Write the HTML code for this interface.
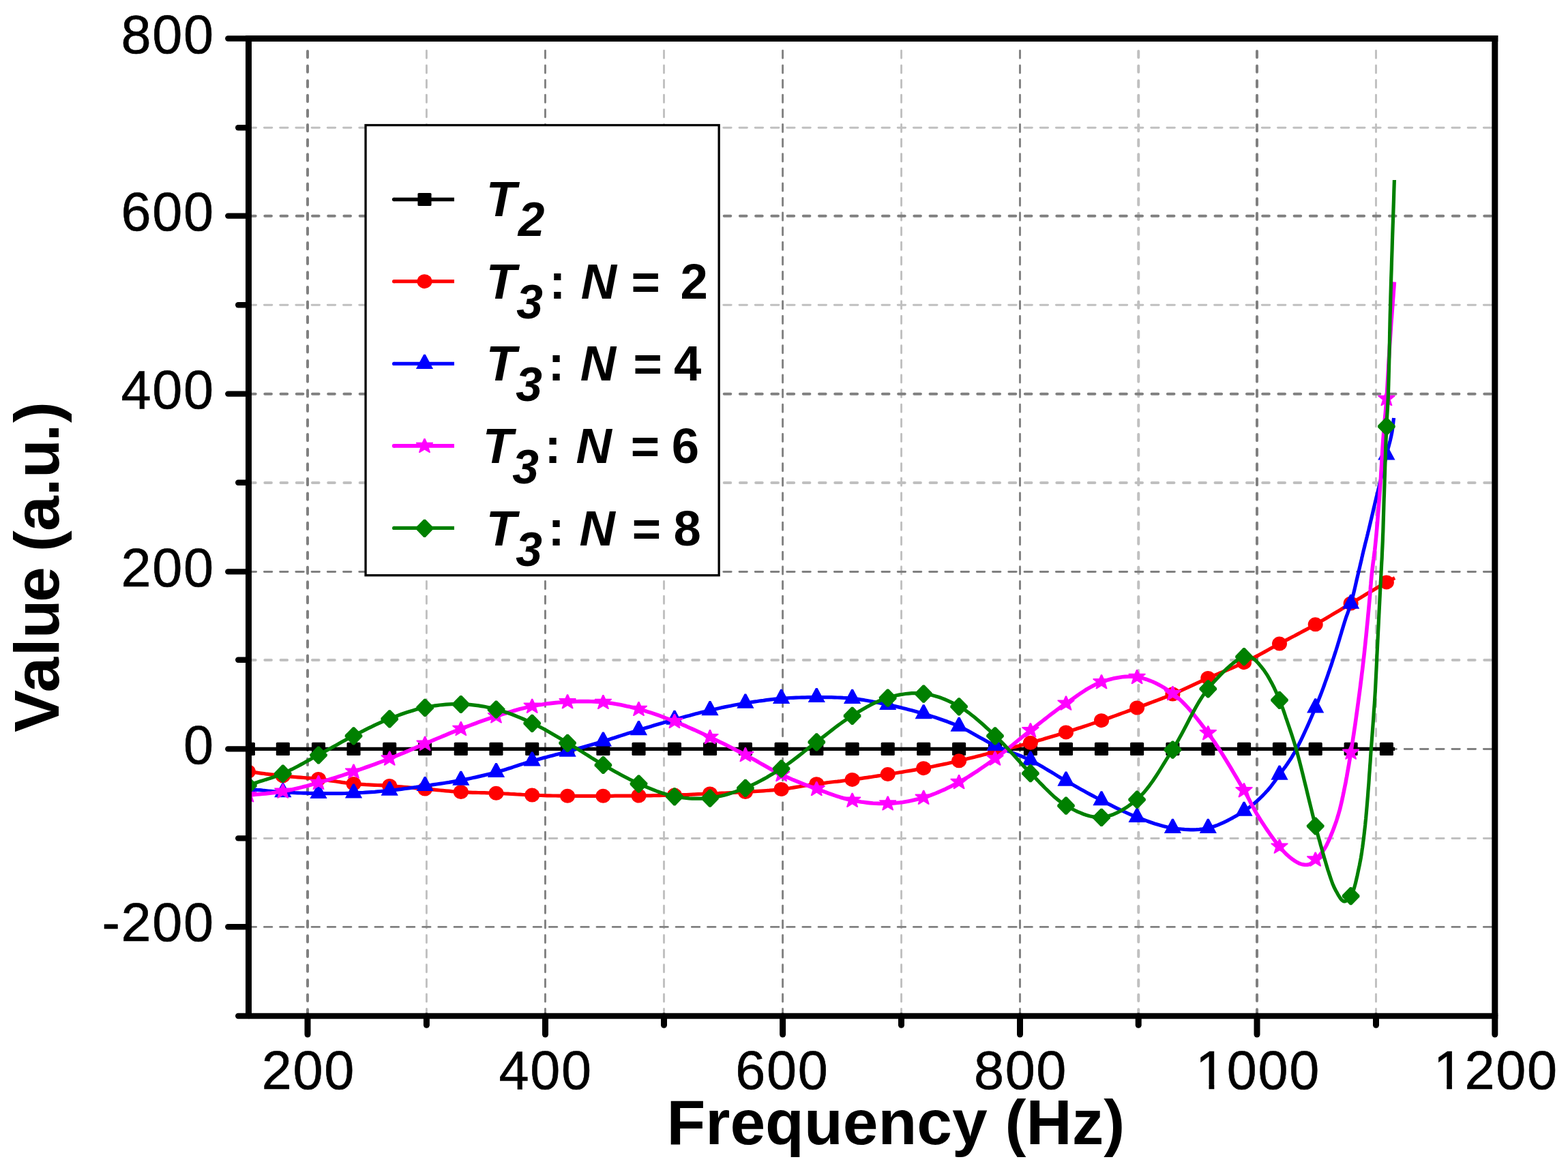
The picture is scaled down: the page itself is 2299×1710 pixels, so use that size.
<!DOCTYPE html>
<html lang="en"><head><meta charset="utf-8"><title>Value vs Frequency</title>
<style>
html,body{margin:0;padding:0;background:#fff;}
svg{display:block;}
text{font-family:"Liberation Sans",sans-serif;fill:#000;}
.tick{font-size:79.2px;letter-spacing:1.7px;stroke:#000;stroke-width:0.6px;}
.title{font-size:93px;font-weight:bold;}
.leg{font-size:72.5px;font-weight:bold;}
.sub{font-size:69.5px;}
.it{font-style:italic;}
</style></head><body>
<svg width="2299" height="1710" viewBox="0 0 2299 1710">
<rect width="2299" height="1710" fill="#fff"/>
<defs>
<clipPath id="plot"><rect x="364.5" y="56.5" width="1827.3000000000002" height="1433.5"/></clipPath>
<clipPath id="grid"><rect x="364.5" y="66" width="1827.3000000000002" height="1424.0"/></clipPath>
</defs>
<g clip-path="url(#grid)" fill="none" stroke-linecap="round">
<path d="M451.00,1489.50 V40" stroke="#808080" stroke-width="4.0" stroke-dasharray="9.2 12.42"/>
<path d="M625.40,1490.65 V40" stroke="#c0c0c0" stroke-width="2.9" stroke-dasharray="11.1 10.52"/>
<path d="M799.45,1490.65 V40" stroke="#808080" stroke-width="2.9" stroke-dasharray="11.1 10.52"/>
<path d="M973.50,1490.65 V40" stroke="#c0c0c0" stroke-width="2.9" stroke-dasharray="11.1 10.52"/>
<path d="M1147.60,1490.65 V40" stroke="#808080" stroke-width="2.9" stroke-dasharray="11.1 10.52"/>
<path d="M1321.55,1490.65 V40" stroke="#c0c0c0" stroke-width="2.9" stroke-dasharray="11.1 10.52"/>
<path d="M1495.50,1490.65 V40" stroke="#808080" stroke-width="2.9" stroke-dasharray="11.1 10.52"/>
<path d="M1669.25,1489.50 V40" stroke="#c0c0c0" stroke-width="4.0" stroke-dasharray="9.2 12.42"/>
<path d="M1843.00,1489.50 V40" stroke="#808080" stroke-width="4.0" stroke-dasharray="9.2 12.42"/>
<path d="M2017.50,1490.65 V40" stroke="#c0c0c0" stroke-width="2.9" stroke-dasharray="11.1 10.52"/>
<path d="M364.20,1359.40 H2200" stroke="#808080" stroke-width="2.9" stroke-dasharray="11.4 11.82"/>
<path d="M364.20,1229.50 H2200" stroke="#c0c0c0" stroke-width="2.9" stroke-dasharray="11.4 11.82"/>
<path d="M364.20,1098.45 H2200" stroke="#808080" stroke-width="2.9" stroke-dasharray="11.4 11.82"/>
<path d="M365.10,967.90 H2200" stroke="#c0c0c0" stroke-width="4.0" stroke-dasharray="9.6 13.62"/>
<path d="M364.20,838.50 H2200" stroke="#808080" stroke-width="2.9" stroke-dasharray="11.4 11.82"/>
<path d="M365.10,707.90 H2200" stroke="#c0c0c0" stroke-width="4.0" stroke-dasharray="9.6 13.62"/>
<path d="M365.10,577.70 H2200" stroke="#808080" stroke-width="4.0" stroke-dasharray="9.6 13.62"/>
<path d="M364.20,447.30 H2200" stroke="#c0c0c0" stroke-width="2.9" stroke-dasharray="11.4 11.82"/>
<path d="M365.10,316.70 H2200" stroke="#808080" stroke-width="4.0" stroke-dasharray="9.6 13.62"/>
<path d="M364.20,187.30 H2200" stroke="#c0c0c0" stroke-width="2.9" stroke-dasharray="11.4 11.82"/>
</g>
<g clip-path="url(#plot)">
<path d="M363.9,1098.4 L368.1,1098.4 L372.4,1098.4 L376.6,1098.4 L380.9,1098.4 L385.1,1098.4 L389.3,1098.4 L393.6,1098.4 L397.8,1098.4 L402.1,1098.4 L406.3,1098.4 L410.6,1098.4 L414.8,1098.4 L419.2,1098.4 L423.5,1098.4 L427.8,1098.4 L432.2,1098.4 L436.5,1098.4 L440.9,1098.4 L445.2,1098.4 L449.6,1098.4 L454.0,1098.4 L458.3,1098.4 L462.6,1098.4 L467.0,1098.4 L471.3,1098.4 L475.6,1098.4 L479.9,1098.4 L484.2,1098.4 L488.4,1098.4 L492.7,1098.4 L497.0,1098.4 L501.3,1098.4 L505.6,1098.4 L509.9,1098.4 L514.2,1098.4 L518.5,1098.4 L522.9,1098.4 L527.3,1098.4 L531.7,1098.4 L536.1,1098.4 L540.4,1098.4 L544.8,1098.4 L549.2,1098.4 L553.6,1098.4 L558.0,1098.4 L562.4,1098.4 L566.8,1098.4 L571.2,1098.4 L575.5,1098.4 L579.8,1098.4 L584.2,1098.4 L588.5,1098.4 L592.8,1098.4 L597.1,1098.4 L601.4,1098.4 L605.7,1098.4 L610.1,1098.4 L614.4,1098.4 L618.7,1098.4 L623.1,1098.4 L627.4,1098.4 L631.8,1098.4 L636.2,1098.4 L640.6,1098.4 L645.0,1098.4 L649.4,1098.4 L653.8,1098.4 L658.2,1098.4 L662.6,1098.4 L667.0,1098.4 L671.4,1098.4 L675.8,1098.4 L680.1,1098.4 L684.4,1098.4 L688.7,1098.4 L693.0,1098.4 L697.3,1098.4 L701.6,1098.4 L705.9,1098.4 L710.2,1098.4 L714.5,1098.4 L718.8,1098.4 L723.1,1098.4 L727.5,1098.4 L731.8,1098.4 L736.2,1098.4 L740.6,1098.4 L745.0,1098.4 L749.4,1098.4 L753.8,1098.4 L758.2,1098.4 L762.6,1098.4 L767.0,1098.4 L771.4,1098.4 L775.8,1098.4 L780.2,1098.4 L784.5,1098.4 L788.9,1098.4 L793.2,1098.4 L797.5,1098.4 L801.8,1098.4 L806.2,1098.4 L810.5,1098.4 L814.8,1098.4 L819.1,1098.4 L823.5,1098.4 L827.8,1098.4 L832.1,1098.4 L836.5,1098.4 L840.8,1098.4 L845.2,1098.4 L849.5,1098.4 L853.9,1098.4 L858.2,1098.4 L862.6,1098.4 L867.0,1098.4 L871.3,1098.4 L875.7,1098.4 L880.0,1098.4 L884.4,1098.4 L888.7,1098.4 L893.1,1098.4 L897.4,1098.4 L901.8,1098.4 L906.1,1098.4 L910.4,1098.4 L914.8,1098.4 L919.1,1098.4 L923.5,1098.4 L927.8,1098.4 L932.2,1098.4 L936.5,1098.4 L940.9,1098.4 L945.3,1098.4 L949.6,1098.4 L954.0,1098.4 L958.4,1098.4 L962.7,1098.4 L967.1,1098.4 L971.5,1098.4 L975.9,1098.4 L980.2,1098.4 L984.6,1098.4 L989.0,1098.4 L993.3,1098.4 L997.7,1098.4 L1002.0,1098.4 L1006.4,1098.4 L1010.7,1098.4 L1015.0,1098.4 L1019.4,1098.4 L1023.7,1098.4 L1028.0,1098.4 L1032.4,1098.4 L1036.7,1098.4 L1041.0,1098.4 L1045.4,1098.4 L1049.7,1098.4 L1054.0,1098.4 L1058.3,1098.4 L1062.6,1098.4 L1067.0,1098.4 L1071.3,1098.4 L1075.6,1098.4 L1079.9,1098.4 L1084.3,1098.4 L1088.6,1098.4 L1092.9,1098.4 L1097.3,1098.4 L1101.7,1098.4 L1106.1,1098.4 L1110.5,1098.4 L1114.9,1098.4 L1119.3,1098.4 L1123.7,1098.4 L1128.1,1098.4 L1132.5,1098.4 L1136.9,1098.4 L1141.3,1098.4 L1145.6,1098.4 L1150.0,1098.4 L1154.3,1098.4 L1158.6,1098.4 L1162.9,1098.4 L1167.2,1098.4 L1171.5,1098.4 L1175.8,1098.4 L1180.1,1098.4 L1184.4,1098.4 L1188.7,1098.4 L1193.0,1098.4 L1197.3,1098.4 L1201.7,1098.4 L1206.0,1098.4 L1210.4,1098.4 L1214.7,1098.4 L1219.1,1098.4 L1223.4,1098.4 L1227.8,1098.4 L1232.2,1098.4 L1236.5,1098.4 L1240.9,1098.4 L1245.2,1098.4 L1249.6,1098.4 L1253.9,1098.4 L1258.3,1098.4 L1262.6,1098.4 L1267.0,1098.4 L1271.3,1098.4 L1275.6,1098.4 L1280.0,1098.4 L1284.3,1098.4 L1288.7,1098.4 L1293.0,1098.4 L1297.4,1098.4 L1301.7,1098.4 L1306.1,1098.4 L1310.5,1098.4 L1314.8,1098.4 L1319.2,1098.4 L1323.6,1098.4 L1328.0,1098.4 L1332.4,1098.4 L1336.8,1098.4 L1341.1,1098.4 L1345.5,1098.4 L1349.9,1098.4 L1354.2,1098.4 L1358.6,1098.4 L1362.9,1098.4 L1367.2,1098.4 L1371.5,1098.4 L1375.9,1098.4 L1380.2,1098.4 L1384.5,1098.4 L1388.8,1098.4 L1393.1,1098.4 L1397.5,1098.4 L1401.8,1098.4 L1406.1,1098.4 L1410.5,1098.4 L1414.9,1098.4 L1419.3,1098.4 L1423.7,1098.4 L1428.1,1098.4 L1432.5,1098.4 L1437.0,1098.4 L1441.4,1098.4 L1445.8,1098.4 L1450.2,1098.4 L1454.6,1098.4 L1459.0,1098.4 L1463.3,1098.4 L1467.7,1098.4 L1472.0,1098.4 L1476.3,1098.4 L1480.6,1098.4 L1485.0,1098.4 L1489.3,1098.4 L1493.6,1098.4 L1497.9,1098.4 L1502.3,1098.4 L1506.6,1098.4 L1510.9,1098.4 L1515.2,1098.4 L1519.6,1098.4 L1523.9,1098.4 L1528.3,1098.4 L1532.6,1098.4 L1536.9,1098.4 L1541.3,1098.4 L1545.6,1098.4 L1550.0,1098.4 L1554.3,1098.4 L1558.6,1098.4 L1563.0,1098.4 L1567.3,1098.4 L1571.7,1098.4 L1576.0,1098.4 L1580.3,1098.4 L1584.7,1098.4 L1589.0,1098.4 L1593.3,1098.4 L1597.6,1098.4 L1602.0,1098.4 L1606.3,1098.4 L1610.7,1098.4 L1615.0,1098.4 L1619.3,1098.4 L1623.7,1098.4 L1628.0,1098.4 L1632.4,1098.4 L1636.7,1098.4 L1641.0,1098.4 L1645.4,1098.4 L1649.7,1098.4 L1654.1,1098.4 L1658.4,1098.4 L1662.8,1098.4 L1667.1,1098.4 L1671.5,1098.4 L1675.8,1098.4 L1680.2,1098.4 L1684.5,1098.4 L1688.9,1098.4 L1693.3,1098.4 L1697.6,1098.4 L1702.0,1098.4 L1706.3,1098.4 L1710.7,1098.4 L1715.0,1098.4 L1719.4,1098.4 L1723.7,1098.4 L1728.0,1098.4 L1732.4,1098.4 L1736.7,1098.4 L1741.0,1098.4 L1745.3,1098.4 L1749.7,1098.4 L1754.0,1098.4 L1758.3,1098.4 L1762.7,1098.4 L1767.0,1098.4 L1771.3,1098.4 L1775.7,1098.4 L1780.1,1098.4 L1784.5,1098.4 L1788.9,1098.4 L1793.3,1098.4 L1797.7,1098.4 L1802.1,1098.4 L1806.5,1098.4 L1810.9,1098.4 L1815.3,1098.4 L1819.7,1098.4 L1824.0,1098.4 L1828.4,1098.4 L1832.7,1098.4 L1837.0,1098.4 L1841.4,1098.4 L1845.7,1098.4 L1850.0,1098.4 L1854.3,1098.4 L1858.6,1098.4 L1863.0,1098.4 L1867.3,1098.4 L1871.6,1098.4 L1876.0,1098.4 L1880.3,1098.4 L1884.7,1098.4 L1889.1,1098.4 L1893.5,1098.4 L1897.9,1098.4 L1902.3,1098.4 L1906.7,1098.4 L1911.1,1098.4 L1915.5,1098.4 L1919.9,1098.4 L1924.3,1098.4 L1928.7,1098.4 L1933.0,1098.4 L1937.4,1098.4 L1941.7,1098.4 L1946.0,1098.4 L1950.4,1098.4 L1954.7,1098.4 L1959.0,1098.4 L1963.3,1098.4 L1967.7,1098.4 L1972.0,1098.4 L1976.3,1098.4 L1980.6,1098.4 L1985.1,1098.4 L1989.8,1098.4 L1994.6,1098.4 L1999.4,1098.4 L2004.3,1098.4 L2009.0,1098.4 L2013.7,1098.4 L2018.2,1098.4 L2022.4,1098.4 L2026.3,1098.4 L2029.8,1098.4 L2032.9,1098.4 L2034.2,1098.4 L2035.4,1098.4 L2036.6,1098.4 L2037.6,1098.4 L2038.6,1098.4 L2039.5,1098.4 L2040.5,1098.4 L2041.4,1098.4 L2042.3,1098.4 L2043.2,1098.4 L2044.1,1098.4 L2045.1,1098.4" fill="none" stroke="#000000" stroke-width="5.4" stroke-linejoin="round"/>
<rect x="353.85" y="1088.80" width="20.1" height="19.2" rx="1.6" fill="#000000"/>
<rect x="404.79" y="1088.80" width="20.1" height="19.2" rx="1.6" fill="#000000"/>
<rect x="456.93" y="1088.80" width="20.1" height="19.2" rx="1.6" fill="#000000"/>
<rect x="508.48" y="1088.80" width="20.1" height="19.2" rx="1.6" fill="#000000"/>
<rect x="561.13" y="1088.80" width="20.1" height="19.2" rx="1.6" fill="#000000"/>
<rect x="613.01" y="1088.80" width="20.1" height="19.2" rx="1.6" fill="#000000"/>
<rect x="665.73" y="1088.80" width="20.1" height="19.2" rx="1.6" fill="#000000"/>
<rect x="717.41" y="1088.80" width="20.1" height="19.2" rx="1.6" fill="#000000"/>
<rect x="770.13" y="1088.80" width="20.1" height="19.2" rx="1.6" fill="#000000"/>
<rect x="822.07" y="1088.80" width="20.1" height="19.2" rx="1.6" fill="#000000"/>
<rect x="874.33" y="1088.80" width="20.1" height="19.2" rx="1.6" fill="#000000"/>
<rect x="926.47" y="1088.80" width="20.1" height="19.2" rx="1.6" fill="#000000"/>
<rect x="978.93" y="1088.80" width="20.1" height="19.2" rx="1.6" fill="#000000"/>
<rect x="1031.00" y="1088.80" width="20.1" height="19.2" rx="1.6" fill="#000000"/>
<rect x="1082.87" y="1088.80" width="20.1" height="19.2" rx="1.6" fill="#000000"/>
<rect x="1135.59" y="1088.80" width="20.1" height="19.2" rx="1.6" fill="#000000"/>
<rect x="1187.27" y="1088.80" width="20.1" height="19.2" rx="1.6" fill="#000000"/>
<rect x="1239.54" y="1088.80" width="20.1" height="19.2" rx="1.6" fill="#000000"/>
<rect x="1291.67" y="1088.80" width="20.1" height="19.2" rx="1.6" fill="#000000"/>
<rect x="1344.20" y="1088.80" width="20.1" height="19.2" rx="1.6" fill="#000000"/>
<rect x="1396.07" y="1088.80" width="20.1" height="19.2" rx="1.6" fill="#000000"/>
<rect x="1448.92" y="1088.80" width="20.1" height="19.2" rx="1.6" fill="#000000"/>
<rect x="1500.86" y="1088.80" width="20.1" height="19.2" rx="1.6" fill="#000000"/>
<rect x="1552.93" y="1088.80" width="20.1" height="19.2" rx="1.6" fill="#000000"/>
<rect x="1604.94" y="1088.80" width="20.1" height="19.2" rx="1.6" fill="#000000"/>
<rect x="1657.07" y="1088.80" width="20.1" height="19.2" rx="1.6" fill="#000000"/>
<rect x="1709.34" y="1088.80" width="20.1" height="19.2" rx="1.6" fill="#000000"/>
<rect x="1761.28" y="1088.80" width="20.1" height="19.2" rx="1.6" fill="#000000"/>
<rect x="1814.00" y="1088.80" width="20.1" height="19.2" rx="1.6" fill="#000000"/>
<rect x="1865.90" y="1088.80" width="20.1" height="19.2" rx="1.6" fill="#000000"/>
<rect x="1918.66" y="1088.80" width="20.1" height="19.2" rx="1.6" fill="#000000"/>
<rect x="1970.60" y="1088.80" width="20.1" height="19.2" rx="1.6" fill="#000000"/>
<rect x="2022.86" y="1088.80" width="20.1" height="19.2" rx="1.6" fill="#000000"/>
<path d="M363.9,1131.6 L368.1,1132.1 L372.4,1132.7 L376.6,1133.2 L380.9,1133.8 L385.1,1134.3 L389.3,1134.9 L393.6,1135.4 L397.8,1135.9 L402.1,1136.4 L406.3,1137.0 L410.6,1137.4 L414.8,1137.9 L419.2,1138.3 L423.5,1138.7 L427.8,1139.1 L432.2,1139.5 L436.5,1139.8 L440.9,1140.2 L445.2,1140.5 L449.6,1140.9 L454.0,1141.2 L458.3,1141.6 L462.6,1142.0 L467.0,1142.5 L471.3,1143.0 L475.6,1143.6 L479.9,1144.2 L484.2,1144.8 L488.4,1145.4 L492.7,1146.0 L497.0,1146.7 L501.3,1147.3 L505.6,1147.9 L509.9,1148.4 L514.2,1149.0 L518.5,1149.4 L522.9,1149.8 L527.3,1150.1 L531.6,1150.4 L536.0,1150.7 L540.4,1150.9 L544.8,1151.1 L549.2,1151.3 L553.6,1151.5 L558.0,1151.7 L562.4,1151.9 L566.8,1152.2 L571.2,1152.5 L575.5,1152.8 L579.8,1153.2 L584.2,1153.5 L588.5,1153.9 L592.8,1154.3 L597.1,1154.7 L601.4,1155.1 L605.8,1155.5 L610.1,1155.8 L614.4,1156.2 L618.7,1156.6 L623.1,1157.0 L627.4,1157.4 L631.8,1157.8 L636.2,1158.2 L640.6,1158.6 L645.0,1159.0 L649.4,1159.4 L653.8,1159.8 L658.2,1160.2 L662.6,1160.6 L667.0,1160.9 L671.4,1161.2 L675.8,1161.5 L680.1,1161.7 L684.4,1161.9 L688.7,1162.1 L693.0,1162.3 L697.3,1162.4 L701.6,1162.5 L705.9,1162.6 L710.2,1162.7 L714.5,1162.8 L718.8,1163.0 L723.1,1163.1 L727.5,1163.3 L731.8,1163.5 L736.2,1163.7 L740.6,1164.0 L745.0,1164.2 L749.4,1164.5 L753.8,1164.7 L758.2,1165.0 L762.6,1165.2 L767.0,1165.5 L771.4,1165.7 L775.8,1165.9 L780.2,1166.1 L784.5,1166.3 L788.9,1166.4 L793.2,1166.5 L797.5,1166.7 L801.8,1166.8 L806.2,1166.9 L810.5,1167.0 L814.8,1167.0 L819.1,1167.1 L823.5,1167.2 L827.8,1167.2 L832.1,1167.3 L836.5,1167.3 L840.8,1167.4 L845.2,1167.4 L849.5,1167.4 L853.9,1167.4 L858.2,1167.4 L862.6,1167.4 L867.0,1167.4 L871.3,1167.3 L875.7,1167.3 L880.0,1167.3 L884.4,1167.3 L888.7,1167.3 L893.1,1167.3 L897.4,1167.3 L901.8,1167.2 L906.1,1167.2 L910.4,1167.2 L914.8,1167.2 L919.1,1167.2 L923.5,1167.1 L927.8,1167.1 L932.2,1167.0 L936.5,1167.0 L940.9,1167.0 L945.3,1166.9 L949.6,1166.8 L954.0,1166.8 L958.4,1166.7 L962.8,1166.7 L967.1,1166.6 L971.5,1166.5 L975.9,1166.4 L980.2,1166.3 L984.6,1166.2 L989.0,1166.1 L993.3,1166.0 L997.7,1165.8 L1002.0,1165.6 L1006.4,1165.5 L1010.7,1165.3 L1015.0,1165.1 L1019.4,1164.9 L1023.7,1164.7 L1028.0,1164.5 L1032.4,1164.3 L1036.7,1164.1 L1041.0,1163.9 L1045.4,1163.7 L1049.7,1163.5 L1054.0,1163.4 L1058.3,1163.2 L1062.7,1163.0 L1067.0,1162.8 L1071.3,1162.6 L1075.6,1162.4 L1079.9,1162.2 L1084.3,1162.0 L1088.6,1161.8 L1092.9,1161.5 L1097.3,1161.2 L1101.7,1161.0 L1106.1,1160.7 L1110.5,1160.4 L1114.9,1160.1 L1119.3,1159.8 L1123.7,1159.5 L1128.1,1159.2 L1132.5,1158.8 L1136.9,1158.4 L1141.3,1158.0 L1145.6,1157.5 L1150.0,1157.0 L1154.3,1156.4 L1158.6,1155.8 L1162.9,1155.1 L1167.2,1154.4 L1171.5,1153.7 L1175.8,1153.0 L1180.1,1152.3 L1184.4,1151.6 L1188.7,1151.0 L1193.0,1150.3 L1197.3,1149.7 L1201.7,1149.1 L1206.0,1148.6 L1210.4,1148.1 L1214.7,1147.5 L1219.1,1147.0 L1223.4,1146.5 L1227.8,1146.1 L1232.2,1145.6 L1236.5,1145.0 L1240.9,1144.5 L1245.2,1144.0 L1249.6,1143.4 L1253.9,1142.8 L1258.3,1142.2 L1262.6,1141.6 L1267.0,1140.9 L1271.3,1140.3 L1275.7,1139.7 L1280.0,1139.0 L1284.3,1138.3 L1288.7,1137.7 L1293.0,1137.0 L1297.4,1136.3 L1301.7,1135.6 L1306.1,1134.9 L1310.5,1134.2 L1314.9,1133.5 L1319.2,1132.8 L1323.6,1132.1 L1328.0,1131.3 L1332.4,1130.6 L1336.8,1129.9 L1341.2,1129.1 L1345.5,1128.3 L1349.9,1127.5 L1354.2,1126.7 L1358.6,1125.9 L1362.9,1125.0 L1367.2,1124.2 L1371.6,1123.3 L1375.9,1122.4 L1380.2,1121.5 L1384.5,1120.6 L1388.8,1119.7 L1393.1,1118.7 L1397.5,1117.8 L1401.8,1116.8 L1406.1,1115.8 L1410.5,1114.8 L1414.9,1113.7 L1419.3,1112.6 L1423.7,1111.5 L1428.1,1110.4 L1432.6,1109.3 L1437.0,1108.2 L1441.4,1107.0 L1445.8,1105.9 L1450.2,1104.7 L1454.6,1103.6 L1459.0,1102.5 L1463.3,1101.4 L1467.7,1100.3 L1472.0,1099.2 L1476.3,1098.2 L1480.7,1097.1 L1485.0,1096.0 L1489.3,1094.9 L1493.6,1093.9 L1498.0,1092.7 L1502.3,1091.6 L1506.6,1090.5 L1510.9,1089.3 L1515.3,1088.1 L1519.6,1086.9 L1524.0,1085.6 L1528.3,1084.4 L1532.6,1083.1 L1537.0,1081.8 L1541.3,1080.5 L1545.7,1079.2 L1550.0,1077.9 L1554.3,1076.6 L1558.7,1075.3 L1563.0,1073.9 L1567.3,1072.5 L1571.7,1071.1 L1576.0,1069.8 L1580.3,1068.3 L1584.7,1066.9 L1589.0,1065.5 L1593.3,1064.1 L1597.7,1062.6 L1602.0,1061.1 L1606.3,1059.7 L1610.7,1058.2 L1615.0,1056.7 L1619.3,1055.2 L1623.7,1053.7 L1628.0,1052.2 L1632.4,1050.6 L1636.7,1049.1 L1641.1,1047.5 L1645.4,1045.9 L1649.8,1044.4 L1654.1,1042.8 L1658.4,1041.2 L1662.8,1039.6 L1667.1,1038.0 L1671.5,1036.4 L1675.9,1034.8 L1680.2,1033.2 L1684.6,1031.5 L1689.0,1029.9 L1693.3,1028.3 L1697.7,1026.6 L1702.0,1025.0 L1706.4,1023.3 L1710.7,1021.5 L1715.1,1019.8 L1719.4,1018.0 L1723.7,1016.2 L1728.1,1014.3 L1732.4,1012.3 L1736.7,1010.4 L1741.1,1008.4 L1745.4,1006.4 L1749.7,1004.3 L1754.0,1002.3 L1758.3,1000.3 L1762.6,998.3 L1767.0,996.3 L1771.3,994.4 L1775.7,992.5 L1780.1,990.6 L1784.5,988.8 L1788.9,986.9 L1793.3,985.1 L1797.7,983.3 L1802.2,981.4 L1806.6,979.6 L1811.0,977.7 L1815.3,975.7 L1819.7,973.7 L1824.0,971.7 L1828.4,969.6 L1832.8,967.4 L1837.1,965.1 L1841.4,962.9 L1845.8,960.6 L1850.1,958.2 L1854.4,955.9 L1858.7,953.5 L1863.0,951.1 L1867.3,948.8 L1871.6,946.4 L1876.0,944.1 L1880.3,941.8 L1884.7,939.4 L1889.1,937.1 L1893.5,934.8 L1898.0,932.5 L1902.4,930.1 L1906.8,927.8 L1911.2,925.4 L1915.6,923.1 L1920.0,920.7 L1924.3,918.2 L1928.7,915.8 L1933.1,913.3 L1937.4,910.8 L1941.8,908.3 L1946.1,905.7 L1950.4,903.1 L1954.7,900.6 L1959.0,898.0 L1963.4,895.4 L1967.7,892.8 L1972.0,890.2 L1976.3,887.6 L1980.6,885.0 L1985.1,882.3 L1989.8,879.5 L1994.5,876.7 L1999.4,873.8 L2004.2,870.8 L2009.0,868.0 L2013.7,865.2 L2018.2,862.5 L2022.4,860.0 L2026.3,857.7 L2029.8,855.6 L2032.9,853.9 L2034.2,853.2 L2035.4,852.5 L2036.5,851.9 L2037.6,851.4 L2038.6,850.9 L2039.5,850.4 L2040.4,849.9 L2041.3,849.5 L2042.2,849.0 L2043.2,848.6 L2044.1,848.1 L2045.1,847.6" fill="none" stroke="#ff0000" stroke-width="5.2" stroke-linejoin="round"/>
<ellipse cx="363.9" cy="1131.6" rx="11" ry="10.5" fill="#ff0000"/>
<ellipse cx="414.8" cy="1137.9" rx="11" ry="10.5" fill="#ff0000"/>
<ellipse cx="467.0" cy="1142.5" rx="11" ry="10.5" fill="#ff0000"/>
<ellipse cx="518.5" cy="1149.4" rx="11" ry="10.5" fill="#ff0000"/>
<ellipse cx="571.2" cy="1152.5" rx="11" ry="10.5" fill="#ff0000"/>
<ellipse cx="623.1" cy="1157.0" rx="11" ry="10.5" fill="#ff0000"/>
<ellipse cx="675.8" cy="1161.5" rx="11" ry="10.5" fill="#ff0000"/>
<ellipse cx="727.5" cy="1163.3" rx="11" ry="10.5" fill="#ff0000"/>
<ellipse cx="780.2" cy="1166.1" rx="11" ry="10.5" fill="#ff0000"/>
<ellipse cx="832.1" cy="1167.3" rx="11" ry="10.5" fill="#ff0000"/>
<ellipse cx="884.4" cy="1167.3" rx="11" ry="10.5" fill="#ff0000"/>
<ellipse cx="936.5" cy="1167.0" rx="11" ry="10.5" fill="#ff0000"/>
<ellipse cx="989.0" cy="1166.1" rx="11" ry="10.5" fill="#ff0000"/>
<ellipse cx="1041.0" cy="1163.9" rx="11" ry="10.5" fill="#ff0000"/>
<ellipse cx="1092.9" cy="1161.5" rx="11" ry="10.5" fill="#ff0000"/>
<ellipse cx="1145.6" cy="1157.5" rx="11" ry="10.5" fill="#ff0000"/>
<ellipse cx="1197.3" cy="1149.7" rx="11" ry="10.5" fill="#ff0000"/>
<ellipse cx="1249.6" cy="1143.4" rx="11" ry="10.5" fill="#ff0000"/>
<ellipse cx="1301.7" cy="1135.6" rx="11" ry="10.5" fill="#ff0000"/>
<ellipse cx="1354.2" cy="1126.7" rx="11" ry="10.5" fill="#ff0000"/>
<ellipse cx="1406.1" cy="1115.8" rx="11" ry="10.5" fill="#ff0000"/>
<ellipse cx="1459.0" cy="1102.5" rx="11" ry="10.5" fill="#ff0000"/>
<ellipse cx="1510.9" cy="1089.3" rx="11" ry="10.5" fill="#ff0000"/>
<ellipse cx="1563.0" cy="1073.9" rx="11" ry="10.5" fill="#ff0000"/>
<ellipse cx="1615.0" cy="1056.7" rx="11" ry="10.5" fill="#ff0000"/>
<ellipse cx="1667.1" cy="1038.0" rx="11" ry="10.5" fill="#ff0000"/>
<ellipse cx="1719.4" cy="1018.0" rx="11" ry="10.5" fill="#ff0000"/>
<ellipse cx="1771.3" cy="994.4" rx="11" ry="10.5" fill="#ff0000"/>
<ellipse cx="1824.0" cy="971.7" rx="11" ry="10.5" fill="#ff0000"/>
<ellipse cx="1876.0" cy="944.1" rx="11" ry="10.5" fill="#ff0000"/>
<ellipse cx="1928.7" cy="915.8" rx="11" ry="10.5" fill="#ff0000"/>
<ellipse cx="1980.6" cy="885.0" rx="11" ry="10.5" fill="#ff0000"/>
<ellipse cx="2032.9" cy="853.9" rx="11" ry="10.5" fill="#ff0000"/>
<path d="M363.9,1157.0 L368.1,1157.4 L372.4,1157.8 L376.6,1158.3 L380.9,1158.7 L385.1,1159.2 L389.3,1159.6 L393.6,1160.0 L397.8,1160.4 L402.1,1160.8 L406.3,1161.2 L410.6,1161.5 L414.8,1161.8 L419.2,1162.1 L423.5,1162.3 L427.8,1162.5 L432.2,1162.7 L436.5,1162.8 L440.9,1163.0 L445.2,1163.1 L449.6,1163.2 L453.9,1163.3 L458.3,1163.4 L462.6,1163.4 L467.0,1163.5 L471.3,1163.6 L475.6,1163.6 L479.9,1163.6 L484.2,1163.6 L488.5,1163.6 L492.7,1163.6 L497.0,1163.6 L501.3,1163.6 L505.6,1163.5 L509.9,1163.4 L514.2,1163.3 L518.5,1163.1 L522.9,1162.9 L527.3,1162.7 L531.7,1162.5 L536.1,1162.2 L540.5,1161.9 L544.9,1161.6 L549.3,1161.3 L553.7,1160.9 L558.0,1160.5 L562.4,1160.1 L566.8,1159.7 L571.2,1159.3 L575.5,1158.8 L579.9,1158.4 L584.2,1157.8 L588.5,1157.3 L592.8,1156.7 L597.1,1156.2 L601.4,1155.6 L605.8,1155.0 L610.1,1154.4 L614.4,1153.7 L618.7,1153.1 L623.1,1152.5 L627.4,1151.9 L631.8,1151.3 L636.2,1150.6 L640.6,1150.0 L645.0,1149.4 L649.5,1148.7 L653.9,1148.0 L658.3,1147.4 L662.7,1146.6 L667.0,1145.9 L671.4,1145.1 L675.8,1144.3 L680.1,1143.5 L684.4,1142.6 L688.8,1141.7 L693.1,1140.8 L697.4,1139.9 L701.7,1138.9 L706.0,1137.9 L710.3,1136.9 L714.6,1135.8 L718.9,1134.8 L723.2,1133.6 L727.5,1132.5 L731.9,1131.3 L736.2,1130.0 L740.6,1128.7 L745.0,1127.3 L749.4,1125.9 L753.8,1124.4 L758.2,1123.0 L762.6,1121.6 L767.0,1120.1 L771.4,1118.7 L775.8,1117.4 L780.2,1116.1 L784.5,1114.9 L788.8,1113.7 L793.2,1112.5 L797.5,1111.3 L801.8,1110.2 L806.2,1109.1 L810.5,1108.0 L814.8,1106.8 L819.1,1105.7 L823.5,1104.6 L827.8,1103.4 L832.1,1102.2 L836.5,1101.0 L840.8,1099.8 L845.2,1098.5 L849.5,1097.3 L853.9,1096.1 L858.3,1094.8 L862.6,1093.5 L867.0,1092.3 L871.3,1091.0 L875.7,1089.7 L880.0,1088.4 L884.4,1087.1 L888.7,1085.8 L893.1,1084.4 L897.4,1083.1 L901.8,1081.7 L906.1,1080.3 L910.4,1078.9 L914.8,1077.5 L919.1,1076.1 L923.5,1074.8 L927.8,1073.4 L932.2,1072.0 L936.5,1070.7 L940.9,1069.4 L945.2,1068.1 L949.6,1066.7 L954.0,1065.4 L958.4,1064.1 L962.7,1062.8 L967.1,1061.5 L971.5,1060.3 L975.9,1059.0 L980.2,1057.8 L984.6,1056.5 L989.0,1055.3 L993.3,1054.1 L997.7,1052.9 L1002.0,1051.7 L1006.3,1050.5 L1010.7,1049.4 L1015.0,1048.2 L1019.3,1047.1 L1023.7,1045.9 L1028.0,1044.8 L1032.4,1043.8 L1036.7,1042.7 L1041.0,1041.7 L1045.4,1040.7 L1049.7,1039.7 L1054.0,1038.8 L1058.3,1037.8 L1062.6,1036.9 L1066.9,1036.0 L1071.2,1035.2 L1075.6,1034.3 L1079.9,1033.5 L1084.2,1032.7 L1088.6,1031.9 L1092.9,1031.2 L1097.3,1030.5 L1101.7,1029.8 L1106.1,1029.1 L1110.5,1028.5 L1114.9,1027.8 L1119.3,1027.3 L1123.7,1026.7 L1128.1,1026.2 L1132.5,1025.7 L1136.9,1025.2 L1141.3,1024.8 L1145.6,1024.4 L1150.0,1024.1 L1154.3,1023.8 L1158.6,1023.5 L1162.9,1023.3 L1167.2,1023.1 L1171.5,1023.0 L1175.8,1022.8 L1180.1,1022.8 L1184.4,1022.7 L1188.7,1022.6 L1193.0,1022.6 L1197.3,1022.6 L1201.7,1022.6 L1206.0,1022.6 L1210.4,1022.6 L1214.7,1022.7 L1219.1,1022.7 L1223.5,1022.8 L1227.8,1023.0 L1232.2,1023.1 L1236.5,1023.4 L1240.9,1023.6 L1245.2,1024.0 L1249.6,1024.4 L1253.9,1024.9 L1258.3,1025.4 L1262.7,1026.1 L1267.0,1026.7 L1271.4,1027.5 L1275.7,1028.2 L1280.0,1029.1 L1284.4,1029.9 L1288.7,1030.8 L1293.1,1031.7 L1297.4,1032.6 L1301.7,1033.5 L1306.1,1034.4 L1310.5,1035.4 L1314.9,1036.4 L1319.3,1037.4 L1323.7,1038.5 L1328.1,1039.6 L1332.4,1040.7 L1336.8,1041.8 L1341.2,1043.0 L1345.6,1044.2 L1349.9,1045.5 L1354.2,1046.8 L1358.6,1048.1 L1363.0,1049.5 L1367.3,1050.9 L1371.7,1052.3 L1376.0,1053.7 L1380.3,1055.2 L1384.6,1056.7 L1389.0,1058.3 L1393.3,1060.0 L1397.6,1061.7 L1401.8,1063.5 L1406.1,1065.3 L1410.6,1067.3 L1415.0,1069.5 L1419.4,1071.8 L1423.8,1074.2 L1428.2,1076.7 L1432.6,1079.2 L1437.0,1081.7 L1441.3,1084.1 L1445.7,1086.6 L1450.1,1089.0 L1454.5,1091.2 L1459.0,1093.4 L1463.3,1095.4 L1467.6,1097.2 L1471.9,1099.0 L1476.3,1100.7 L1480.6,1102.4 L1485.0,1104.1 L1489.3,1105.8 L1493.7,1107.5 L1498.0,1109.2 L1502.3,1111.0 L1506.6,1113.0 L1510.9,1115.0 L1515.3,1117.2 L1519.7,1119.6 L1524.0,1122.0 L1528.4,1124.5 L1532.7,1127.1 L1537.0,1129.7 L1541.4,1132.3 L1545.7,1134.9 L1550.0,1137.6 L1554.3,1140.2 L1558.6,1142.7 L1563.0,1145.2 L1567.3,1147.6 L1571.6,1150.1 L1575.9,1152.5 L1580.3,1155.0 L1584.6,1157.4 L1588.9,1159.8 L1593.2,1162.2 L1597.6,1164.6 L1601.9,1166.9 L1606.3,1169.3 L1610.6,1171.5 L1615.0,1173.8 L1619.3,1176.0 L1623.6,1178.2 L1627.9,1180.4 L1632.2,1182.6 L1636.6,1184.8 L1640.9,1186.9 L1645.2,1189.0 L1649.6,1191.0 L1654.0,1193.0 L1658.3,1194.9 L1662.7,1196.7 L1667.1,1198.5 L1671.4,1200.2 L1675.7,1201.8 L1680.1,1203.4 L1684.4,1205.0 L1688.7,1206.5 L1693.1,1208.0 L1697.5,1209.3 L1701.8,1210.6 L1706.2,1211.7 L1710.6,1212.8 L1715.0,1213.7 L1719.4,1214.4 L1723.7,1215.0 L1728.0,1215.6 L1732.4,1216.0 L1736.7,1216.4 L1741.1,1216.6 L1745.4,1216.8 L1749.8,1216.8 L1754.1,1216.7 L1758.5,1216.4 L1762.8,1215.9 L1767.1,1215.3 L1771.3,1214.4 L1775.9,1213.2 L1780.5,1211.8 L1785.1,1210.1 L1789.7,1208.2 L1794.3,1206.1 L1798.9,1203.9 L1803.4,1201.5 L1807.9,1199.1 L1812.1,1196.7 L1816.3,1194.2 L1820.3,1191.7 L1824.0,1189.3 L1827.0,1187.3 L1829.9,1185.3 L1832.7,1183.3 L1835.4,1181.2 L1838.0,1179.1 L1840.5,1176.9 L1843.0,1174.7 L1845.4,1172.5 L1847.7,1170.3 L1850.0,1168.1 L1852.3,1165.8 L1854.5,1163.5 L1856.5,1161.3 L1858.5,1159.2 L1860.4,1157.0 L1862.2,1154.8 L1864.0,1152.5 L1865.7,1150.2 L1867.4,1148.0 L1869.1,1145.7 L1870.8,1143.3 L1872.5,1141.0 L1874.2,1138.6 L1876.0,1136.2 L1877.8,1133.7 L1879.7,1131.1 L1881.5,1128.6 L1883.3,1126.1 L1885.2,1123.6 L1887.0,1121.0 L1888.8,1118.3 L1890.6,1115.6 L1892.5,1112.8 L1894.3,1109.9 L1896.1,1106.8 L1898.0,1103.6 L1900.6,1098.9 L1903.2,1093.9 L1905.9,1088.6 L1908.6,1083.1 L1911.3,1077.3 L1914.0,1071.5 L1916.7,1065.6 L1919.3,1059.8 L1921.8,1054.0 L1924.2,1048.4 L1926.5,1043.0 L1928.7,1037.9 L1930.3,1034.0 L1931.9,1030.2 L1933.4,1026.4 L1934.8,1022.8 L1936.2,1019.2 L1937.6,1015.6 L1938.9,1012.1 L1940.2,1008.6 L1941.5,1005.0 L1942.7,1001.5 L1944.0,997.9 L1945.3,994.3 L1946.6,990.7 L1947.8,987.0 L1949.1,983.4 L1950.3,979.8 L1951.6,976.1 L1952.8,972.5 L1954.0,968.8 L1955.1,965.2 L1956.3,961.6 L1957.5,957.9 L1958.7,954.3 L1959.8,950.7 L1960.9,947.2 L1962.0,943.6 L1963.1,939.9 L1964.2,936.3 L1965.3,932.6 L1966.4,929.0 L1967.4,925.4 L1968.5,921.9 L1969.5,918.5 L1970.5,915.2 L1971.5,912.0 L1972.5,908.9 L1973.2,906.7 L1973.9,904.7 L1974.6,902.7 L1975.3,900.9 L1976.0,899.0 L1976.6,897.2 L1977.3,895.4 L1978.0,893.6 L1978.6,891.7 L1979.3,889.7 L1980.0,887.6 L1980.6,885.3 L1981.6,881.8 L1982.7,878.0 L1983.7,874.0 L1984.7,869.8 L1985.8,865.4 L1986.8,861.0 L1987.8,856.6 L1988.8,852.2 L1989.8,847.9 L1990.8,843.7 L1991.7,839.7 L1992.6,836.0 L1993.3,833.2 L1993.9,830.5 L1994.5,827.9 L1995.1,825.3 L1995.7,822.8 L1996.3,820.3 L1996.8,817.8 L1997.4,815.4 L1997.9,813.0 L1998.5,810.7 L1999.0,808.3 L1999.6,806.0 L2000.1,804.0 L2000.6,802.0 L2001.1,800.0 L2001.5,798.1 L2002.0,796.2 L2002.5,794.3 L2003.0,792.4 L2003.5,790.5 L2003.9,788.7 L2004.4,786.8 L2004.8,785.0 L2005.3,783.1 L2005.7,781.3 L2006.1,779.6 L2006.6,777.9 L2007.0,776.2 L2007.4,774.4 L2007.8,772.7 L2008.2,771.0 L2008.6,769.3 L2009.0,767.6 L2009.4,765.9 L2009.8,764.2 L2010.2,762.5 L2010.6,760.8 L2011.0,759.1 L2011.4,757.4 L2011.8,755.7 L2012.2,754.0 L2012.6,752.3 L2013.0,750.6 L2013.4,748.8 L2013.8,747.1 L2014.2,745.4 L2014.6,743.7 L2015.0,742.0 L2015.4,740.3 L2015.8,738.5 L2016.2,736.8 L2016.7,735.1 L2017.1,733.4 L2017.5,731.7 L2017.9,729.9 L2018.3,728.2 L2018.8,726.4 L2019.2,724.6 L2019.7,722.8 L2020.1,721.0 L2020.6,718.9 L2021.1,716.8 L2021.7,714.7 L2022.2,712.6 L2022.7,710.4 L2023.3,708.2 L2023.8,706.0 L2024.4,703.8 L2024.9,701.6 L2025.4,699.4 L2026.0,697.2 L2026.5,695.0 L2027.0,692.7 L2027.6,690.4 L2028.1,688.1 L2028.6,685.8 L2029.1,683.5 L2029.7,681.2 L2030.2,678.8 L2030.7,676.5 L2031.3,674.1 L2031.8,671.8 L2032.4,669.4 L2032.9,667.0 L2033.5,664.5 L2034.2,661.9 L2034.8,659.3 L2035.5,656.6 L2036.2,654.0 L2036.9,651.3 L2037.6,648.7 L2038.3,646.1 L2038.9,643.5 L2039.5,640.9 L2040.0,638.4 L2040.5,636.0 L2040.9,634.0 L2041.2,632.0 L2041.5,630.0 L2041.8,628.1 L2042.0,626.2 L2042.2,624.3 L2042.5,622.4 L2042.7,620.5 L2042.9,618.7 L2043.1,616.8 L2043.4,614.9 L2043.6,613.0" fill="none" stroke="#0000ff" stroke-width="5.2" stroke-linejoin="round"/>
<path d="M362.6,1143.4 L365.2,1143.4 L376.5,1164.5 L351.3,1164.5 Z" fill="#0000ff"/>
<path d="M413.5,1148.2 L416.1,1148.2 L427.4,1169.3 L402.2,1169.3 Z" fill="#0000ff"/>
<path d="M465.7,1149.9 L468.3,1149.9 L479.6,1171.0 L454.4,1171.0 Z" fill="#0000ff"/>
<path d="M517.2,1149.5 L519.8,1149.5 L531.1,1170.6 L505.9,1170.6 Z" fill="#0000ff"/>
<path d="M569.9,1145.7 L572.5,1145.7 L583.8,1166.8 L558.6,1166.8 Z" fill="#0000ff"/>
<path d="M621.8,1138.9 L624.4,1138.9 L635.7,1160.0 L610.5,1160.0 Z" fill="#0000ff"/>
<path d="M674.5,1130.7 L677.1,1130.7 L688.4,1151.8 L663.2,1151.8 Z" fill="#0000ff"/>
<path d="M726.2,1118.9 L728.8,1118.9 L740.1,1140.0 L714.9,1140.0 Z" fill="#0000ff"/>
<path d="M778.9,1102.5 L781.5,1102.5 L792.8,1123.6 L767.6,1123.6 Z" fill="#0000ff"/>
<path d="M830.8,1088.6 L833.4,1088.6 L844.7,1109.7 L819.5,1109.7 Z" fill="#0000ff"/>
<path d="M883.1,1073.5 L885.7,1073.5 L897.0,1094.6 L871.8,1094.6 Z" fill="#0000ff"/>
<path d="M935.2,1057.1 L937.8,1057.1 L949.1,1078.2 L923.9,1078.2 Z" fill="#0000ff"/>
<path d="M987.7,1041.7 L990.3,1041.7 L1001.6,1062.8 L976.4,1062.8 Z" fill="#0000ff"/>
<path d="M1039.7,1028.1 L1042.3,1028.1 L1053.6,1049.2 L1028.4,1049.2 Z" fill="#0000ff"/>
<path d="M1091.6,1017.6 L1094.2,1017.6 L1105.5,1038.7 L1080.3,1038.7 Z" fill="#0000ff"/>
<path d="M1144.3,1010.8 L1146.9,1010.8 L1158.2,1031.9 L1133.0,1031.9 Z" fill="#0000ff"/>
<path d="M1196.0,1009.0 L1198.6,1009.0 L1209.9,1030.1 L1184.7,1030.1 Z" fill="#0000ff"/>
<path d="M1248.3,1010.8 L1250.9,1010.8 L1262.2,1031.9 L1237.0,1031.9 Z" fill="#0000ff"/>
<path d="M1300.4,1019.9 L1303.0,1019.9 L1314.3,1041.0 L1289.1,1041.0 Z" fill="#0000ff"/>
<path d="M1352.9,1033.2 L1355.5,1033.2 L1366.8,1054.3 L1341.6,1054.3 Z" fill="#0000ff"/>
<path d="M1404.8,1051.7 L1407.4,1051.7 L1418.7,1072.8 L1393.5,1072.8 Z" fill="#0000ff"/>
<path d="M1457.7,1079.8 L1460.3,1079.8 L1471.6,1100.9 L1446.4,1100.9 Z" fill="#0000ff"/>
<path d="M1509.6,1101.4 L1512.2,1101.4 L1523.5,1122.5 L1498.3,1122.5 Z" fill="#0000ff"/>
<path d="M1561.7,1131.6 L1564.3,1131.6 L1575.6,1152.7 L1550.4,1152.7 Z" fill="#0000ff"/>
<path d="M1613.7,1160.2 L1616.3,1160.2 L1627.6,1181.3 L1602.4,1181.3 Z" fill="#0000ff"/>
<path d="M1665.8,1184.9 L1668.4,1184.9 L1679.7,1206.0 L1654.5,1206.0 Z" fill="#0000ff"/>
<path d="M1718.1,1200.8 L1720.7,1200.8 L1732.0,1221.9 L1706.8,1221.9 Z" fill="#0000ff"/>
<path d="M1770.0,1200.8 L1772.6,1200.8 L1783.9,1221.9 L1758.7,1221.9 Z" fill="#0000ff"/>
<path d="M1822.7,1175.7 L1825.3,1175.7 L1836.6,1196.8 L1811.4,1196.8 Z" fill="#0000ff"/>
<path d="M1874.7,1122.6 L1877.3,1122.6 L1888.6,1143.7 L1863.4,1143.7 Z" fill="#0000ff"/>
<path d="M1927.4,1024.3 L1930.0,1024.3 L1941.3,1045.4 L1916.1,1045.4 Z" fill="#0000ff"/>
<path d="M1979.3,871.7 L1981.9,871.7 L1993.2,892.8 L1968.0,892.8 Z" fill="#0000ff"/>
<path d="M2031.6,653.4 L2034.2,653.4 L2045.5,674.5 L2020.3,674.5 Z" fill="#0000ff"/>
<path d="M363.9,1166.3 L368.1,1165.8 L372.4,1165.4 L376.6,1165.0 L380.9,1164.6 L385.1,1164.3 L389.4,1163.9 L393.6,1163.4 L397.9,1163.0 L402.1,1162.5 L406.4,1161.9 L410.6,1161.3 L414.8,1160.6 L419.2,1159.8 L423.5,1158.9 L427.9,1158.0 L432.2,1157.0 L436.6,1156.0 L441.0,1154.9 L445.3,1153.8 L449.7,1152.7 L454.0,1151.5 L458.3,1150.3 L462.7,1149.1 L467.0,1147.9 L471.3,1146.7 L475.6,1145.4 L479.9,1144.1 L484.2,1142.8 L488.5,1141.5 L492.8,1140.1 L497.1,1138.7 L501.4,1137.3 L505.6,1135.9 L509.9,1134.5 L514.2,1133.1 L518.5,1131.6 L522.9,1130.1 L527.3,1128.6 L531.7,1127.1 L536.1,1125.5 L540.5,1124.0 L544.9,1122.4 L549.3,1120.8 L553.7,1119.2 L558.1,1117.5 L562.5,1115.9 L566.8,1114.2 L571.2,1112.5 L575.5,1110.8 L579.9,1109.0 L584.2,1107.2 L588.5,1105.4 L592.8,1103.6 L597.1,1101.8 L601.5,1099.9 L605.8,1098.1 L610.1,1096.2 L614.4,1094.4 L618.7,1092.5 L623.1,1090.7 L627.4,1088.9 L631.8,1087.0 L636.2,1085.2 L640.6,1083.3 L645.0,1081.5 L649.4,1079.6 L653.8,1077.8 L658.2,1075.9 L662.6,1074.1 L667.0,1072.4 L671.4,1070.6 L675.8,1068.9 L680.1,1067.2 L684.4,1065.6 L688.7,1064.0 L693.0,1062.4 L697.3,1060.8 L701.5,1059.2 L705.8,1057.7 L710.1,1056.2 L714.5,1054.7 L718.8,1053.2 L723.1,1051.8 L727.5,1050.4 L731.8,1049.0 L736.2,1047.6 L740.5,1046.3 L744.9,1044.9 L749.3,1043.6 L753.7,1042.3 L758.1,1041.0 L762.5,1039.8 L766.9,1038.7 L771.4,1037.6 L775.8,1036.6 L780.2,1035.7 L784.5,1034.9 L788.8,1034.1 L793.1,1033.4 L797.4,1032.7 L801.8,1032.1 L806.1,1031.6 L810.4,1031.1 L814.8,1030.6 L819.1,1030.2 L823.4,1029.9 L827.8,1029.6 L832.1,1029.3 L836.5,1029.1 L840.8,1028.9 L845.2,1028.7 L849.5,1028.6 L853.9,1028.6 L858.3,1028.6 L862.6,1028.6 L867.0,1028.8 L871.3,1028.9 L875.7,1029.2 L880.0,1029.5 L884.4,1029.9 L888.7,1030.4 L893.1,1030.9 L897.5,1031.6 L901.8,1032.3 L906.2,1033.0 L910.5,1033.8 L914.9,1034.7 L919.2,1035.7 L923.6,1036.6 L927.9,1037.7 L932.2,1038.8 L936.5,1039.9 L940.9,1041.1 L945.3,1042.4 L949.7,1043.8 L954.1,1045.2 L958.5,1046.6 L962.9,1048.2 L967.2,1049.7 L971.6,1051.3 L976.0,1053.0 L980.3,1054.6 L984.6,1056.3 L989.0,1058.0 L993.4,1059.7 L997.7,1061.5 L1002.1,1063.4 L1006.4,1065.2 L1010.8,1067.2 L1015.1,1069.1 L1019.5,1071.0 L1023.8,1073.0 L1028.1,1075.0 L1032.4,1077.0 L1036.7,1079.1 L1041.0,1081.1 L1045.4,1083.2 L1049.7,1085.2 L1054.1,1087.4 L1058.4,1089.5 L1062.7,1091.6 L1067.0,1093.8 L1071.3,1096.0 L1075.7,1098.2 L1080.0,1100.4 L1084.3,1102.6 L1088.6,1104.8 L1092.9,1107.1 L1097.3,1109.4 L1101.7,1111.9 L1106.1,1114.3 L1110.5,1116.8 L1114.8,1119.3 L1119.2,1121.8 L1123.6,1124.3 L1128.0,1126.8 L1132.4,1129.2 L1136.8,1131.6 L1141.2,1133.8 L1145.6,1136.0 L1149.9,1138.0 L1154.2,1139.9 L1158.5,1141.8 L1162.8,1143.7 L1167.1,1145.4 L1171.4,1147.2 L1175.7,1148.9 L1180.0,1150.6 L1184.3,1152.2 L1188.6,1153.8 L1193.0,1155.4 L1197.3,1157.0 L1201.6,1158.6 L1206.0,1160.2 L1210.3,1161.7 L1214.6,1163.3 L1219.0,1164.9 L1223.3,1166.4 L1227.7,1167.8 L1232.0,1169.2 L1236.4,1170.5 L1240.8,1171.7 L1245.2,1172.7 L1249.6,1173.7 L1253.9,1174.5 L1258.2,1175.3 L1262.5,1176.0 L1266.9,1176.6 L1271.2,1177.1 L1275.6,1177.6 L1279.9,1178.0 L1284.3,1178.2 L1288.7,1178.4 L1293.0,1178.5 L1297.4,1178.5 L1301.7,1178.4 L1306.1,1178.2 L1310.5,1177.9 L1314.9,1177.5 L1319.3,1177.0 L1323.7,1176.4 L1328.1,1175.7 L1332.5,1174.9 L1336.9,1174.1 L1341.3,1173.1 L1345.6,1172.1 L1349.9,1170.9 L1354.2,1169.7 L1358.7,1168.3 L1363.0,1166.8 L1367.4,1165.2 L1371.8,1163.5 L1376.1,1161.7 L1380.4,1159.8 L1384.8,1157.9 L1389.0,1155.8 L1393.3,1153.7 L1397.6,1151.5 L1401.9,1149.3 L1406.1,1147.0 L1410.6,1144.5 L1415.1,1141.9 L1419.5,1139.3 L1424.0,1136.5 L1428.4,1133.7 L1432.8,1130.8 L1437.2,1127.8 L1441.6,1124.8 L1446.0,1121.8 L1450.3,1118.7 L1454.7,1115.6 L1459.0,1112.5 L1463.4,1109.3 L1467.8,1105.9 L1472.1,1102.6 L1476.4,1099.1 L1480.8,1095.6 L1485.1,1092.1 L1489.4,1088.6 L1493.6,1085.1 L1497.9,1081.6 L1502.3,1078.1 L1506.6,1074.6 L1510.9,1071.2 L1515.2,1067.8 L1519.5,1064.4 L1523.8,1061.0 L1528.2,1057.6 L1532.5,1054.2 L1536.8,1050.9 L1541.1,1047.5 L1545.5,1044.2 L1549.8,1041.0 L1554.2,1037.8 L1558.6,1034.6 L1563.0,1031.6 L1567.2,1028.7 L1571.5,1025.7 L1575.8,1022.7 L1580.0,1019.7 L1584.3,1016.8 L1588.6,1014.0 L1592.9,1011.2 L1597.3,1008.6 L1601.7,1006.2 L1606.1,1003.9 L1610.5,1001.9 L1615.0,1000.2 L1619.2,998.8 L1623.5,997.4 L1627.8,996.2 L1632.2,995.1 L1636.6,994.2 L1641.0,993.4 L1645.4,992.8 L1649.8,992.4 L1654.2,992.2 L1658.5,992.2 L1662.8,992.5 L1667.1,993.0 L1671.6,993.8 L1676.0,994.9 L1680.5,996.2 L1685.0,997.8 L1689.4,999.5 L1693.8,1001.5 L1698.2,1003.7 L1702.6,1006.1 L1706.9,1008.6 L1711.1,1011.3 L1715.3,1014.2 L1719.4,1017.1 L1724.1,1020.8 L1728.7,1024.7 L1733.2,1029.0 L1737.6,1033.5 L1742.0,1038.2 L1746.3,1043.2 L1750.5,1048.3 L1754.7,1053.5 L1758.9,1058.8 L1763.1,1064.2 L1767.2,1069.7 L1771.3,1075.2 L1776.0,1081.6 L1780.8,1088.4 L1785.5,1095.6 L1790.3,1102.9 L1795.0,1110.4 L1799.6,1118.0 L1804.2,1125.5 L1808.5,1132.9 L1812.8,1140.0 L1816.8,1146.9 L1820.5,1153.3 L1824.0,1159.3 L1826.2,1163.0 L1828.2,1166.5 L1830.0,1169.9 L1831.8,1173.2 L1833.4,1176.4 L1835.0,1179.5 L1836.6,1182.5 L1838.2,1185.5 L1839.9,1188.6 L1841.6,1191.7 L1843.4,1194.8 L1845.4,1198.0 L1847.7,1201.7 L1850.1,1205.4 L1852.6,1209.3 L1855.2,1213.2 L1857.8,1217.1 L1860.5,1221.0 L1863.2,1224.8 L1865.9,1228.6 L1868.5,1232.1 L1871.1,1235.5 L1873.6,1238.7 L1876.0,1241.6 L1877.6,1243.5 L1879.2,1245.3 L1880.7,1247.1 L1882.3,1248.8 L1883.8,1250.4 L1885.3,1251.9 L1886.8,1253.4 L1888.4,1254.8 L1889.9,1256.2 L1891.4,1257.4 L1892.9,1258.6 L1894.4,1259.8 L1895.6,1260.7 L1896.9,1261.5 L1898.1,1262.4 L1899.3,1263.1 L1900.6,1263.9 L1901.8,1264.6 L1903.0,1265.2 L1904.2,1265.8 L1905.4,1266.3 L1906.6,1266.8 L1907.8,1267.2 L1909.0,1267.5 L1909.9,1267.7 L1910.9,1267.9 L1911.8,1268.0 L1912.7,1268.2 L1913.7,1268.2 L1914.6,1268.3 L1915.5,1268.3 L1916.4,1268.2 L1917.3,1268.1 L1918.1,1268.0 L1919.0,1267.8 L1919.8,1267.5 L1920.6,1267.2 L1921.4,1266.8 L1922.2,1266.3 L1922.9,1265.8 L1923.6,1265.3 L1924.3,1264.7 L1925.1,1264.0 L1925.8,1263.4 L1926.5,1262.7 L1927.2,1262.0 L1927.9,1261.2 L1928.7,1260.5 L1929.7,1259.5 L1930.8,1258.4 L1931.9,1257.3 L1933.0,1256.2 L1934.1,1255.0 L1935.2,1253.7 L1936.3,1252.4 L1937.4,1251.1 L1938.5,1249.7 L1939.6,1248.3 L1940.6,1246.8 L1941.6,1245.3 L1942.8,1243.4 L1944.0,1241.3 L1945.1,1239.2 L1946.2,1236.9 L1947.3,1234.6 L1948.4,1232.3 L1949.4,1229.9 L1950.4,1227.5 L1951.4,1225.1 L1952.4,1222.7 L1953.4,1220.3 L1954.3,1218.0 L1955.2,1215.8 L1956.0,1213.5 L1956.8,1211.3 L1957.6,1209.1 L1958.4,1206.9 L1959.2,1204.7 L1959.9,1202.5 L1960.6,1200.2 L1961.3,1197.9 L1962.0,1195.6 L1962.7,1193.2 L1963.4,1190.8 L1964.2,1188.0 L1964.9,1185.2 L1965.6,1182.3 L1966.3,1179.4 L1967.0,1176.4 L1967.7,1173.4 L1968.3,1170.4 L1969.0,1167.3 L1969.6,1164.2 L1970.3,1161.0 L1970.9,1157.8 L1971.6,1154.5 L1972.4,1150.6 L1973.2,1146.6 L1973.9,1142.6 L1974.7,1138.5 L1975.4,1134.3 L1976.2,1130.1 L1976.9,1125.8 L1977.7,1121.4 L1978.4,1117.0 L1979.2,1112.6 L1979.9,1108.1 L1980.6,1103.6 L1981.5,1098.3 L1982.3,1092.9 L1983.2,1087.4 L1984.0,1081.9 L1984.9,1076.2 L1985.7,1070.6 L1986.6,1064.8 L1987.4,1059.1 L1988.2,1053.3 L1989.0,1047.5 L1989.8,1041.8 L1990.6,1036.0 L1991.4,1030.0 L1992.2,1024.1 L1993.0,1018.0 L1993.8,1012.0 L1994.6,1005.9 L1995.3,999.9 L1996.1,993.8 L1996.8,987.7 L1997.6,981.6 L1998.3,975.5 L1999.0,969.5 L1999.7,963.4 L2000.4,957.3 L2001.0,951.2 L2001.7,945.0 L2002.3,938.7 L2003.0,932.5 L2003.6,926.3 L2004.2,920.1 L2004.8,914.0 L2005.4,908.0 L2005.9,902.2 L2006.5,896.4 L2007.0,890.8 L2007.4,886.2 L2007.8,881.7 L2008.2,877.3 L2008.6,873.0 L2008.9,868.7 L2009.3,864.5 L2009.6,860.3 L2010.0,856.2 L2010.3,852.1 L2010.7,848.0 L2011.1,844.0 L2011.5,840.0 L2011.9,836.5 L2012.3,833.1 L2012.7,829.8 L2013.1,826.5 L2013.5,823.3 L2014.0,820.1 L2014.4,816.8 L2014.8,813.5 L2015.2,810.1 L2015.7,806.6 L2016.1,802.9 L2016.5,799.0 L2017.1,793.2 L2017.7,787.0 L2018.3,780.6 L2018.9,773.8 L2019.5,766.9 L2020.0,759.9 L2020.6,752.8 L2021.2,745.6 L2021.7,738.5 L2022.3,731.5 L2022.8,724.6 L2023.3,717.9 L2023.7,711.7 L2024.2,705.5 L2024.6,699.3 L2024.9,693.2 L2025.3,687.0 L2025.7,680.9 L2026.0,674.9 L2026.4,668.9 L2026.7,662.9 L2027.1,657.0 L2027.5,651.1 L2027.9,645.3 L2028.3,640.1 L2028.7,635.0 L2029.1,630.1 L2029.5,625.2 L2030.0,620.3 L2030.4,615.4 L2030.8,610.6 L2031.3,605.7 L2031.7,600.7 L2032.1,595.6 L2032.5,590.4 L2032.9,585.0 L2033.4,578.4 L2033.8,571.7 L2034.2,564.8 L2034.6,557.8 L2035.0,550.7 L2035.4,543.5 L2035.8,536.2 L2036.2,528.9 L2036.7,521.6 L2037.1,514.4 L2037.5,507.2 L2038.0,500.0 L2038.5,492.8 L2039.0,485.6 L2039.5,478.4 L2040.0,471.2 L2040.6,464.0 L2041.1,456.8 L2041.7,449.6 L2042.2,442.4 L2042.8,435.1 L2043.3,427.9 L2043.9,420.7 L2044.4,413.5" fill="none" stroke="#ff00ff" stroke-width="5.6" stroke-linejoin="round"/>
<path d="M362.9,1155.3 L364.9,1155.3 L367.5,1161.1 L376.3,1161.1 L376.5,1162.5 L369.9,1167.9 L372.5,1176.1 L370.9,1176.5 L363.9,1172.1 L356.9,1176.5 L355.3,1176.1 L357.9,1167.9 L351.3,1162.5 L351.5,1161.1 L360.3,1161.1 Z" fill="#ff00ff"/>
<path d="M413.8,1149.6 L415.8,1149.6 L418.4,1155.4 L427.2,1155.4 L427.4,1156.8 L420.8,1162.2 L423.4,1170.4 L421.8,1170.8 L414.8,1166.4 L407.8,1170.8 L406.2,1170.4 L408.8,1162.2 L402.2,1156.8 L402.4,1155.4 L411.2,1155.4 Z" fill="#ff00ff"/>
<path d="M466.0,1136.9 L468.0,1136.9 L470.6,1142.7 L479.4,1142.7 L479.6,1144.1 L473.0,1149.5 L475.6,1157.7 L474.0,1158.1 L467.0,1153.7 L460.0,1158.1 L458.4,1157.7 L461.0,1149.5 L454.4,1144.1 L454.6,1142.7 L463.4,1142.7 Z" fill="#ff00ff"/>
<path d="M517.5,1120.6 L519.5,1120.6 L522.1,1126.4 L530.9,1126.4 L531.1,1127.8 L524.5,1133.2 L527.1,1141.4 L525.5,1141.8 L518.5,1137.4 L511.5,1141.8 L509.9,1141.4 L512.5,1133.2 L505.9,1127.8 L506.1,1126.4 L514.9,1126.4 Z" fill="#ff00ff"/>
<path d="M570.2,1101.5 L572.2,1101.5 L574.8,1107.3 L583.6,1107.3 L583.8,1108.7 L577.2,1114.1 L579.8,1122.3 L578.2,1122.7 L571.2,1118.3 L564.2,1122.7 L562.6,1122.3 L565.2,1114.1 L558.6,1108.7 L558.8,1107.3 L567.6,1107.3 Z" fill="#ff00ff"/>
<path d="M622.1,1079.7 L624.1,1079.7 L626.7,1085.5 L635.5,1085.5 L635.7,1086.9 L629.1,1092.3 L631.7,1100.5 L630.1,1100.9 L623.1,1096.5 L616.1,1100.9 L614.5,1100.5 L617.1,1092.3 L610.5,1086.9 L610.7,1085.5 L619.5,1085.5 Z" fill="#ff00ff"/>
<path d="M674.8,1057.9 L676.8,1057.9 L679.4,1063.7 L688.2,1063.7 L688.4,1065.1 L681.8,1070.5 L684.4,1078.7 L682.8,1079.1 L675.8,1074.7 L668.8,1079.1 L667.2,1078.7 L669.8,1070.5 L663.2,1065.1 L663.4,1063.7 L672.2,1063.7 Z" fill="#ff00ff"/>
<path d="M726.5,1039.4 L728.5,1039.4 L731.1,1045.2 L739.9,1045.2 L740.1,1046.6 L733.5,1052.0 L736.1,1060.2 L734.5,1060.6 L727.5,1056.2 L720.5,1060.6 L718.9,1060.2 L721.5,1052.0 L714.9,1046.6 L715.1,1045.2 L723.9,1045.2 Z" fill="#ff00ff"/>
<path d="M779.2,1024.7 L781.2,1024.7 L783.8,1030.5 L792.6,1030.5 L792.8,1031.9 L786.2,1037.3 L788.8,1045.5 L787.2,1045.9 L780.2,1041.5 L773.2,1045.9 L771.6,1045.5 L774.2,1037.3 L767.6,1031.9 L767.8,1030.5 L776.6,1030.5 Z" fill="#ff00ff"/>
<path d="M831.1,1018.3 L833.1,1018.3 L835.7,1024.1 L844.5,1024.1 L844.7,1025.5 L838.1,1030.9 L840.7,1039.1 L839.1,1039.5 L832.1,1035.1 L825.1,1039.5 L823.5,1039.1 L826.1,1030.9 L819.5,1025.5 L819.7,1024.1 L828.5,1024.1 Z" fill="#ff00ff"/>
<path d="M883.4,1018.9 L885.4,1018.9 L888.0,1024.7 L896.8,1024.7 L897.0,1026.1 L890.4,1031.5 L893.0,1039.7 L891.4,1040.1 L884.4,1035.7 L877.4,1040.1 L875.8,1039.7 L878.4,1031.5 L871.8,1026.1 L872.0,1024.7 L880.8,1024.7 Z" fill="#ff00ff"/>
<path d="M935.5,1028.9 L937.5,1028.9 L940.1,1034.7 L948.9,1034.7 L949.1,1036.1 L942.5,1041.5 L945.1,1049.7 L943.5,1050.1 L936.5,1045.7 L929.5,1050.1 L927.9,1049.7 L930.5,1041.5 L923.9,1036.1 L924.1,1034.7 L932.9,1034.7 Z" fill="#ff00ff"/>
<path d="M988.0,1047.0 L990.0,1047.0 L992.6,1052.8 L1001.4,1052.8 L1001.6,1054.2 L995.0,1059.6 L997.6,1067.8 L996.0,1068.2 L989.0,1063.8 L982.0,1068.2 L980.4,1067.8 L983.0,1059.6 L976.4,1054.2 L976.6,1052.8 L985.4,1052.8 Z" fill="#ff00ff"/>
<path d="M1040.0,1070.1 L1042.0,1070.1 L1044.6,1075.9 L1053.4,1075.9 L1053.6,1077.3 L1047.0,1082.7 L1049.6,1090.9 L1048.0,1091.3 L1041.0,1086.9 L1034.0,1091.3 L1032.4,1090.9 L1035.0,1082.7 L1028.4,1077.3 L1028.6,1075.9 L1037.4,1075.9 Z" fill="#ff00ff"/>
<path d="M1091.9,1096.1 L1093.9,1096.1 L1096.5,1101.9 L1105.3,1101.9 L1105.5,1103.3 L1098.9,1108.7 L1101.5,1116.9 L1099.9,1117.3 L1092.9,1112.9 L1085.9,1117.3 L1084.3,1116.9 L1086.9,1108.7 L1080.3,1103.3 L1080.5,1101.9 L1089.3,1101.9 Z" fill="#ff00ff"/>
<path d="M1144.6,1125.0 L1146.6,1125.0 L1149.2,1130.8 L1158.0,1130.8 L1158.2,1132.2 L1151.6,1137.6 L1154.2,1145.8 L1152.6,1146.2 L1145.6,1141.8 L1138.6,1146.2 L1137.0,1145.8 L1139.6,1137.6 L1133.0,1132.2 L1133.2,1130.8 L1142.0,1130.8 Z" fill="#ff00ff"/>
<path d="M1196.3,1146.0 L1198.3,1146.0 L1200.9,1151.8 L1209.7,1151.8 L1209.9,1153.2 L1203.3,1158.6 L1205.9,1166.8 L1204.3,1167.2 L1197.3,1162.8 L1190.3,1167.2 L1188.7,1166.8 L1191.3,1158.6 L1184.7,1153.2 L1184.9,1151.8 L1193.7,1151.8 Z" fill="#ff00ff"/>
<path d="M1248.6,1162.7 L1250.6,1162.7 L1253.2,1168.5 L1262.0,1168.5 L1262.2,1169.9 L1255.6,1175.3 L1258.2,1183.5 L1256.6,1183.9 L1249.6,1179.5 L1242.6,1183.9 L1241.0,1183.5 L1243.6,1175.3 L1237.0,1169.9 L1237.2,1168.5 L1246.0,1168.5 Z" fill="#ff00ff"/>
<path d="M1300.7,1167.4 L1302.7,1167.4 L1305.3,1173.2 L1314.1,1173.2 L1314.3,1174.6 L1307.7,1180.0 L1310.3,1188.2 L1308.7,1188.6 L1301.7,1184.2 L1294.7,1188.6 L1293.1,1188.2 L1295.7,1180.0 L1289.1,1174.6 L1289.3,1173.2 L1298.1,1173.2 Z" fill="#ff00ff"/>
<path d="M1353.2,1158.7 L1355.2,1158.7 L1357.8,1164.5 L1366.6,1164.5 L1366.8,1165.9 L1360.2,1171.3 L1362.8,1179.5 L1361.2,1179.9 L1354.2,1175.5 L1347.2,1179.9 L1345.6,1179.5 L1348.2,1171.3 L1341.6,1165.9 L1341.8,1164.5 L1350.6,1164.5 Z" fill="#ff00ff"/>
<path d="M1405.1,1136.0 L1407.1,1136.0 L1409.7,1141.8 L1418.5,1141.8 L1418.7,1143.2 L1412.1,1148.6 L1414.7,1156.8 L1413.1,1157.2 L1406.1,1152.8 L1399.1,1157.2 L1397.5,1156.8 L1400.1,1148.6 L1393.5,1143.2 L1393.7,1141.8 L1402.5,1141.8 Z" fill="#ff00ff"/>
<path d="M1458.0,1101.5 L1460.0,1101.5 L1462.6,1107.3 L1471.4,1107.3 L1471.6,1108.7 L1465.0,1114.1 L1467.6,1122.3 L1466.0,1122.7 L1459.0,1118.3 L1452.0,1122.7 L1450.4,1122.3 L1453.0,1114.1 L1446.4,1108.7 L1446.6,1107.3 L1455.4,1107.3 Z" fill="#ff00ff"/>
<path d="M1509.9,1060.2 L1511.9,1060.2 L1514.5,1066.0 L1523.3,1066.0 L1523.5,1067.4 L1516.9,1072.8 L1519.5,1081.0 L1517.9,1081.4 L1510.9,1077.0 L1503.9,1081.4 L1502.3,1081.0 L1504.9,1072.8 L1498.3,1067.4 L1498.5,1066.0 L1507.3,1066.0 Z" fill="#ff00ff"/>
<path d="M1562.0,1020.6 L1564.0,1020.6 L1566.6,1026.4 L1575.4,1026.4 L1575.6,1027.8 L1569.0,1033.2 L1571.6,1041.4 L1570.0,1041.8 L1563.0,1037.4 L1556.0,1041.8 L1554.4,1041.4 L1557.0,1033.2 L1550.4,1027.8 L1550.6,1026.4 L1559.4,1026.4 Z" fill="#ff00ff"/>
<path d="M1614.0,989.2 L1616.0,989.2 L1618.6,995.0 L1627.4,995.0 L1627.6,996.4 L1621.0,1001.8 L1623.6,1010.0 L1622.0,1010.4 L1615.0,1006.0 L1608.0,1010.4 L1606.4,1010.0 L1609.0,1001.8 L1602.4,996.4 L1602.6,995.0 L1611.4,995.0 Z" fill="#ff00ff"/>
<path d="M1666.1,982.0 L1668.1,982.0 L1670.7,987.8 L1679.5,987.8 L1679.7,989.2 L1673.1,994.6 L1675.7,1002.8 L1674.1,1003.2 L1667.1,998.8 L1660.1,1003.2 L1658.5,1002.8 L1661.1,994.6 L1654.5,989.2 L1654.7,987.8 L1663.5,987.8 Z" fill="#ff00ff"/>
<path d="M1718.4,1006.1 L1720.4,1006.1 L1723.0,1011.9 L1731.8,1011.9 L1732.0,1013.3 L1725.4,1018.7 L1728.0,1026.9 L1726.4,1027.3 L1719.4,1022.9 L1712.4,1027.3 L1710.8,1026.9 L1713.4,1018.7 L1706.8,1013.3 L1707.0,1011.9 L1715.8,1011.9 Z" fill="#ff00ff"/>
<path d="M1770.3,1064.2 L1772.3,1064.2 L1774.9,1070.0 L1783.7,1070.0 L1783.9,1071.4 L1777.3,1076.8 L1779.9,1085.0 L1778.3,1085.4 L1771.3,1081.0 L1764.3,1085.4 L1762.7,1085.0 L1765.3,1076.8 L1758.7,1071.4 L1758.9,1070.0 L1767.7,1070.0 Z" fill="#ff00ff"/>
<path d="M1823.0,1148.3 L1825.0,1148.3 L1827.6,1154.1 L1836.4,1154.1 L1836.6,1155.5 L1830.0,1160.9 L1832.6,1169.1 L1831.0,1169.5 L1824.0,1165.1 L1817.0,1169.5 L1815.4,1169.1 L1818.0,1160.9 L1811.4,1155.5 L1811.6,1154.1 L1820.4,1154.1 Z" fill="#ff00ff"/>
<path d="M1875.0,1230.6 L1877.0,1230.6 L1879.6,1236.4 L1888.4,1236.4 L1888.6,1237.8 L1882.0,1243.2 L1884.6,1251.4 L1883.0,1251.8 L1876.0,1247.4 L1869.0,1251.8 L1867.4,1251.4 L1870.0,1243.2 L1863.4,1237.8 L1863.6,1236.4 L1872.4,1236.4 Z" fill="#ff00ff"/>
<path d="M1927.7,1249.5 L1929.7,1249.5 L1932.3,1255.3 L1941.1,1255.3 L1941.3,1256.7 L1934.7,1262.1 L1937.3,1270.3 L1935.7,1270.7 L1928.7,1266.3 L1921.7,1270.7 L1920.1,1270.3 L1922.7,1262.1 L1916.1,1256.7 L1916.3,1255.3 L1925.1,1255.3 Z" fill="#ff00ff"/>
<path d="M1979.6,1092.6 L1981.6,1092.6 L1984.2,1098.4 L1993.0,1098.4 L1993.2,1099.8 L1986.6,1105.2 L1989.2,1113.4 L1987.6,1113.8 L1980.6,1109.4 L1973.6,1113.8 L1972.0,1113.4 L1974.6,1105.2 L1968.0,1099.8 L1968.2,1098.4 L1977.0,1098.4 Z" fill="#ff00ff"/>
<path d="M2031.9,574.0 L2033.9,574.0 L2036.5,579.8 L2045.3,579.8 L2045.5,581.2 L2038.9,586.6 L2041.5,594.8 L2039.9,595.2 L2032.9,590.8 L2025.9,595.2 L2024.3,594.8 L2026.9,586.6 L2020.3,581.2 L2020.5,579.8 L2029.3,579.8 Z" fill="#ff00ff"/>
<path d="M363.9,1151.5 L368.1,1150.1 L372.4,1148.7 L376.7,1147.4 L380.9,1146.1 L385.2,1144.8 L389.4,1143.4 L393.7,1142.1 L397.9,1140.7 L402.2,1139.2 L406.4,1137.7 L410.6,1136.0 L414.8,1134.3 L419.2,1132.4 L423.6,1130.3 L428.0,1128.2 L432.3,1126.0 L436.7,1123.7 L441.0,1121.4 L445.4,1119.0 L449.7,1116.6 L454.0,1114.2 L458.3,1111.8 L462.7,1109.4 L467.0,1107.1 L471.3,1104.8 L475.6,1102.4 L479.9,1100.0 L484.2,1097.7 L488.4,1095.3 L492.7,1092.9 L497.0,1090.5 L501.3,1088.1 L505.6,1085.7 L509.9,1083.4 L514.2,1081.1 L518.5,1078.9 L522.9,1076.7 L527.2,1074.5 L531.6,1072.3 L535.9,1070.1 L540.3,1067.9 L544.7,1065.8 L549.1,1063.6 L553.5,1061.6 L557.9,1059.6 L562.3,1057.7 L566.8,1055.8 L571.2,1054.0 L575.5,1052.3 L579.8,1050.7 L584.0,1049.1 L588.3,1047.5 L592.6,1046.0 L597.0,1044.6 L601.3,1043.2 L605.6,1041.9 L610.0,1040.6 L614.3,1039.5 L618.7,1038.4 L623.1,1037.5 L627.4,1036.7 L631.8,1035.9 L636.1,1035.2 L640.5,1034.6 L644.9,1034.0 L649.4,1033.6 L653.8,1033.2 L658.2,1032.9 L662.6,1032.7 L667.0,1032.6 L671.4,1032.5 L675.8,1032.6 L680.1,1032.8 L684.4,1033.0 L688.8,1033.4 L693.1,1033.8 L697.4,1034.3 L701.7,1034.9 L706.0,1035.6 L710.3,1036.3 L714.6,1037.2 L718.9,1038.1 L723.2,1039.1 L727.5,1040.2 L731.9,1041.4 L736.3,1042.7 L740.8,1044.2 L745.2,1045.7 L749.6,1047.3 L754.0,1049.0 L758.4,1050.8 L762.8,1052.6 L767.2,1054.5 L771.5,1056.4 L775.9,1058.4 L780.2,1060.4 L784.6,1062.5 L789.0,1064.7 L793.3,1067.0 L797.7,1069.3 L802.0,1071.8 L806.3,1074.2 L810.6,1076.7 L814.9,1079.2 L819.2,1081.8 L823.5,1084.3 L827.8,1086.9 L832.1,1089.4 L836.5,1092.0 L840.8,1094.7 L845.2,1097.4 L849.5,1100.1 L853.9,1102.8 L858.2,1105.6 L862.6,1108.3 L866.9,1111.1 L871.3,1113.8 L875.6,1116.4 L880.0,1119.1 L884.4,1121.6 L888.7,1124.1 L893.0,1126.5 L897.3,1129.0 L901.6,1131.4 L905.9,1133.8 L910.3,1136.2 L914.6,1138.5 L919.0,1140.8 L923.3,1143.0 L927.7,1145.1 L932.1,1147.2 L936.5,1149.2 L940.8,1151.1 L945.1,1153.0 L949.5,1154.8 L953.8,1156.6 L958.2,1158.4 L962.5,1160.1 L966.9,1161.7 L971.3,1163.2 L975.7,1164.6 L980.1,1165.8 L984.6,1166.9 L989.0,1167.9 L993.3,1168.7 L997.6,1169.4 L1001.9,1170.0 L1006.3,1170.4 L1010.6,1170.8 L1015.0,1171.1 L1019.4,1171.2 L1023.7,1171.2 L1028.1,1171.2 L1032.4,1171.0 L1036.7,1170.6 L1041.0,1170.2 L1045.4,1169.6 L1049.8,1168.9 L1054.1,1168.0 L1058.5,1167.0 L1062.8,1165.9 L1067.2,1164.7 L1071.5,1163.3 L1075.8,1161.9 L1080.1,1160.4 L1084.4,1158.8 L1088.7,1157.2 L1092.9,1155.5 L1097.4,1153.6 L1101.9,1151.6 L1106.3,1149.5 L1110.8,1147.3 L1115.2,1145.0 L1119.6,1142.6 L1124.0,1140.2 L1128.4,1137.6 L1132.7,1135.1 L1137.0,1132.4 L1141.4,1129.7 L1145.6,1127.0 L1150.1,1124.1 L1154.4,1121.0 L1158.8,1117.9 L1163.1,1114.7 L1167.4,1111.4 L1171.6,1108.1 L1175.9,1104.7 L1180.2,1101.3 L1184.4,1097.9 L1188.7,1094.6 L1193.0,1091.3 L1197.3,1088.0 L1201.7,1084.7 L1206.0,1081.4 L1210.3,1078.1 L1214.6,1074.7 L1218.9,1071.4 L1223.2,1068.0 L1227.6,1064.7 L1231.9,1061.5 L1236.3,1058.3 L1240.7,1055.3 L1245.1,1052.3 L1249.6,1049.5 L1253.8,1046.9 L1258.1,1044.3 L1262.4,1041.7 L1266.7,1039.2 L1271.0,1036.8 L1275.3,1034.4 L1279.7,1032.2 L1284.0,1030.1 L1288.4,1028.1 L1292.8,1026.3 L1297.3,1024.6 L1301.7,1023.2 L1306.0,1022.0 L1310.3,1020.8 L1314.7,1019.8 L1319.1,1018.9 L1323.5,1018.2 L1327.9,1017.5 L1332.3,1017.1 L1336.8,1016.7 L1341.2,1016.6 L1345.6,1016.6 L1349.9,1016.8 L1354.2,1017.2 L1358.6,1017.8 L1363.0,1018.6 L1367.4,1019.7 L1371.8,1020.9 L1376.2,1022.3 L1380.6,1023.8 L1384.9,1025.5 L1389.2,1027.3 L1393.5,1029.3 L1397.7,1031.4 L1401.9,1033.6 L1406.1,1035.9 L1410.7,1038.6 L1415.3,1041.6 L1419.8,1044.8 L1424.2,1048.2 L1428.7,1051.7 L1433.1,1055.4 L1437.5,1059.2 L1441.8,1063.0 L1446.1,1067.0 L1450.4,1070.9 L1454.7,1074.9 L1459.0,1078.9 L1463.4,1083.1 L1467.8,1087.5 L1472.2,1092.1 L1476.5,1096.7 L1480.8,1101.4 L1485.1,1106.1 L1489.3,1110.8 L1493.6,1115.6 L1497.9,1120.3 L1502.2,1124.9 L1506.5,1129.4 L1510.9,1133.8 L1515.2,1138.0 L1519.4,1142.4 L1523.6,1146.8 L1527.9,1151.1 L1532.1,1155.5 L1536.4,1159.7 L1540.7,1163.9 L1545.0,1167.9 L1549.4,1171.6 L1553.9,1175.2 L1558.4,1178.4 L1563.0,1181.3 L1567.1,1183.7 L1571.3,1186.0 L1575.6,1188.2 L1579.9,1190.3 L1584.3,1192.2 L1588.7,1194.0 L1593.1,1195.5 L1597.5,1196.7 L1602.0,1197.7 L1606.3,1198.3 L1610.7,1198.6 L1615.0,1198.5 L1619.4,1198.0 L1623.9,1197.1 L1628.3,1195.8 L1632.8,1194.2 L1637.3,1192.2 L1641.7,1190.0 L1646.1,1187.5 L1650.5,1184.8 L1654.8,1181.9 L1659.0,1178.9 L1663.1,1175.6 L1667.1,1172.3 L1672.0,1167.8 L1676.7,1162.8 L1681.2,1157.4 L1685.7,1151.6 L1690.1,1145.5 L1694.3,1139.2 L1698.6,1132.6 L1702.7,1126.0 L1706.9,1119.2 L1711.0,1112.5 L1715.2,1105.8 L1719.4,1099.2 L1723.8,1092.0 L1728.1,1084.6 L1732.4,1076.8 L1736.5,1069.0 L1740.7,1061.0 L1744.8,1053.0 L1749.0,1045.2 L1753.2,1037.5 L1757.5,1030.0 L1762.0,1022.9 L1766.6,1016.1 L1771.3,1009.9 L1775.5,1004.9 L1780.0,999.8 L1784.7,994.7 L1789.5,989.6 L1794.3,984.8 L1799.2,980.2 L1804.0,975.9 L1808.6,972.1 L1813.0,968.8 L1817.1,966.1 L1820.8,964.0 L1824.0,962.8 L1825.3,962.5 L1826.4,962.3 L1827.5,962.3 L1828.6,962.3 L1829.6,962.5 L1830.6,962.7 L1831.6,963.0 L1832.5,963.3 L1833.4,963.7 L1834.4,964.2 L1835.3,964.7 L1836.3,965.2 L1837.6,966.0 L1838.8,966.8 L1840.1,967.8 L1841.3,969.0 L1842.6,970.2 L1843.8,971.5 L1845.0,972.8 L1846.2,974.2 L1847.4,975.6 L1848.5,977.0 L1849.7,978.4 L1850.8,979.8 L1852.0,981.3 L1853.1,982.8 L1854.2,984.4 L1855.3,986.0 L1856.4,987.6 L1857.4,989.2 L1858.5,990.9 L1859.5,992.6 L1860.5,994.4 L1861.5,996.1 L1862.5,997.9 L1863.5,999.7 L1864.6,1001.8 L1865.7,1003.8 L1866.8,1006.0 L1867.9,1008.1 L1868.9,1010.4 L1870.0,1012.6 L1871.0,1014.8 L1872.0,1017.1 L1873.0,1019.4 L1874.0,1021.7 L1875.0,1024.1 L1876.0,1026.4 L1877.0,1028.9 L1877.9,1031.4 L1878.9,1033.9 L1879.8,1036.5 L1880.8,1039.0 L1881.7,1041.6 L1882.6,1044.2 L1883.5,1046.9 L1884.4,1049.5 L1885.3,1052.3 L1886.3,1055.0 L1887.2,1057.8 L1888.3,1061.0 L1889.4,1064.2 L1890.5,1067.4 L1891.6,1070.6 L1892.7,1073.8 L1893.8,1077.1 L1894.9,1080.5 L1896.0,1084.0 L1897.2,1087.7 L1898.4,1091.5 L1899.6,1095.6 L1900.8,1099.8 L1902.9,1107.4 L1905.2,1116.0 L1907.6,1125.4 L1910.1,1135.3 L1912.6,1145.6 L1915.2,1156.1 L1917.7,1166.6 L1920.2,1176.8 L1922.6,1186.5 L1924.8,1195.7 L1926.9,1203.9 L1928.7,1211.1 L1929.6,1214.6 L1930.5,1217.9 L1931.3,1220.9 L1932.1,1223.8 L1932.8,1226.6 L1933.6,1229.2 L1934.3,1231.8 L1935.0,1234.3 L1935.7,1236.9 L1936.4,1239.5 L1937.2,1242.2 L1938.0,1245.0 L1938.9,1248.0 L1939.7,1251.1 L1940.6,1254.3 L1941.5,1257.4 L1942.4,1260.6 L1943.4,1263.8 L1944.3,1266.9 L1945.2,1270.0 L1946.1,1273.0 L1947.0,1276.0 L1948.0,1278.8 L1948.9,1281.6 L1949.6,1283.8 L1950.3,1285.9 L1951.0,1288.0 L1951.7,1290.0 L1952.4,1292.0 L1953.1,1294.0 L1953.8,1295.9 L1954.6,1297.8 L1955.4,1299.6 L1956.2,1301.5 L1957.1,1303.2 L1958.0,1305.0 L1958.9,1306.7 L1959.9,1308.4 L1960.9,1310.3 L1961.9,1312.1 L1963.0,1313.9 L1964.1,1315.6 L1965.2,1317.3 L1966.3,1318.7 L1967.4,1319.9 L1968.5,1320.9 L1969.6,1321.6 L1970.7,1321.9 L1971.5,1321.9 L1972.4,1321.7 L1973.2,1321.4 L1974.1,1320.9 L1975.0,1320.3 L1975.8,1319.6 L1976.7,1318.8 L1977.5,1317.9 L1978.3,1316.9 L1979.1,1315.9 L1979.9,1314.8 L1980.6,1313.7 L1981.9,1311.5 L1983.1,1308.8 L1984.3,1305.8 L1985.4,1302.6 L1986.4,1299.1 L1987.4,1295.4 L1988.3,1291.6 L1989.2,1287.7 L1990.1,1283.8 L1990.9,1279.9 L1991.7,1276.1 L1992.5,1272.5 L1993.3,1268.8 L1994.0,1265.1 L1994.7,1261.4 L1995.4,1257.7 L1996.0,1254.0 L1996.6,1250.2 L1997.1,1246.4 L1997.7,1242.6 L1998.2,1238.7 L1998.7,1234.9 L1999.2,1230.9 L1999.7,1227.0 L2000.2,1222.7 L2000.7,1218.3 L2001.2,1214.0 L2001.7,1209.6 L2002.1,1205.1 L2002.6,1200.7 L2003.0,1196.1 L2003.4,1191.6 L2003.8,1186.9 L2004.2,1182.2 L2004.6,1177.5 L2005.0,1172.6 L2005.5,1166.8 L2005.9,1160.9 L2006.4,1154.8 L2006.9,1148.7 L2007.3,1142.5 L2007.7,1136.2 L2008.2,1129.9 L2008.6,1123.5 L2009.1,1117.1 L2009.5,1110.7 L2009.9,1104.3 L2010.4,1098.0 L2010.9,1091.4 L2011.4,1084.8 L2011.9,1078.1 L2012.4,1071.4 L2012.9,1064.6 L2013.4,1057.9 L2013.9,1051.1 L2014.3,1044.4 L2014.8,1037.7 L2015.3,1031.1 L2015.7,1024.4 L2016.1,1017.9 L2016.5,1011.7 L2016.8,1005.6 L2017.1,999.5 L2017.4,993.4 L2017.7,987.4 L2018.0,981.4 L2018.3,975.4 L2018.6,969.4 L2018.8,963.4 L2019.1,957.4 L2019.4,951.3 L2019.7,945.3 L2020.0,939.2 L2020.3,933.2 L2020.6,927.1 L2020.9,921.1 L2021.2,915.0 L2021.5,908.9 L2021.8,902.9 L2022.1,896.8 L2022.4,890.8 L2022.7,884.7 L2023.0,878.7 L2023.3,872.6 L2023.6,866.6 L2023.9,860.5 L2024.2,854.6 L2024.6,848.6 L2024.9,842.6 L2025.2,836.6 L2025.5,830.6 L2025.8,824.5 L2026.2,818.5 L2026.4,812.4 L2026.7,806.2 L2027.0,800.0 L2027.3,793.4 L2027.5,786.7 L2027.8,780.0 L2028.0,773.2 L2028.2,766.4 L2028.4,759.6 L2028.6,752.7 L2028.8,745.8 L2029.0,738.9 L2029.2,731.9 L2029.5,724.9 L2029.7,717.9 L2030.0,710.2 L2030.2,702.3 L2030.5,694.2 L2030.7,686.0 L2031.0,677.8 L2031.3,669.6 L2031.5,661.5 L2031.8,653.6 L2032.1,645.9 L2032.4,638.5 L2032.6,631.5 L2032.9,625.0 L2033.1,620.9 L2033.3,617.2 L2033.5,613.7 L2033.7,610.4 L2033.9,607.2 L2034.1,604.1 L2034.3,600.9 L2034.5,597.6 L2034.7,594.2 L2034.9,590.5 L2035.1,586.4 L2035.3,582.0 L2035.6,572.9 L2035.9,562.8 L2036.2,551.9 L2036.5,540.2 L2036.8,527.9 L2037.1,515.2 L2037.4,502.1 L2037.6,488.8 L2037.9,475.4 L2038.2,462.0 L2038.6,448.9 L2038.9,436.0 L2039.3,422.2 L2039.7,408.1 L2040.2,394.0 L2040.6,379.7 L2041.1,365.3 L2041.5,350.9 L2042.0,336.4 L2042.5,321.9 L2043.0,307.3 L2043.5,292.8 L2043.9,278.4 L2044.4,264.0" fill="none" stroke="#008000" stroke-width="5.2" stroke-linejoin="round"/>
<path d="M362.6,1138.8 L365.2,1138.8 L376.7,1150.6 L376.7,1153.2 L365.2,1165.0 L362.6,1165.0 L351.1,1153.2 L351.1,1150.6 Z" fill="#008000"/>
<path d="M413.5,1121.6 L416.1,1121.6 L427.6,1133.4 L427.6,1136.0 L416.1,1147.8 L413.5,1147.8 L402.0,1136.0 L402.0,1133.4 Z" fill="#008000"/>
<path d="M465.7,1094.4 L468.3,1094.4 L479.8,1106.2 L479.8,1108.8 L468.3,1120.6 L465.7,1120.6 L454.2,1108.8 L454.2,1106.2 Z" fill="#008000"/>
<path d="M517.2,1066.2 L519.8,1066.2 L531.3,1078.0 L531.3,1080.6 L519.8,1092.4 L517.2,1092.4 L505.7,1080.6 L505.7,1078.0 Z" fill="#008000"/>
<path d="M569.9,1041.3 L572.5,1041.3 L584.0,1053.1 L584.0,1055.7 L572.5,1067.5 L569.9,1067.5 L558.4,1055.7 L558.4,1053.1 Z" fill="#008000"/>
<path d="M621.8,1024.8 L624.4,1024.8 L635.9,1036.6 L635.9,1039.2 L624.4,1051.0 L621.8,1051.0 L610.3,1039.2 L610.3,1036.6 Z" fill="#008000"/>
<path d="M674.5,1019.9 L677.1,1019.9 L688.6,1031.7 L688.6,1034.3 L677.1,1046.1 L674.5,1046.1 L663.0,1034.3 L663.0,1031.7 Z" fill="#008000"/>
<path d="M726.2,1027.5 L728.8,1027.5 L740.3,1039.3 L740.3,1041.9 L728.8,1053.7 L726.2,1053.7 L714.7,1041.9 L714.7,1039.3 Z" fill="#008000"/>
<path d="M778.9,1047.7 L781.5,1047.7 L793.0,1059.5 L793.0,1062.1 L781.5,1073.9 L778.9,1073.9 L767.4,1062.1 L767.4,1059.5 Z" fill="#008000"/>
<path d="M830.8,1076.7 L833.4,1076.7 L844.9,1088.5 L844.9,1091.1 L833.4,1102.9 L830.8,1102.9 L819.3,1091.1 L819.3,1088.5 Z" fill="#008000"/>
<path d="M883.1,1108.9 L885.7,1108.9 L897.2,1120.7 L897.2,1123.3 L885.7,1135.1 L883.1,1135.1 L871.6,1123.3 L871.6,1120.7 Z" fill="#008000"/>
<path d="M935.2,1136.5 L937.8,1136.5 L949.3,1148.3 L949.3,1150.9 L937.8,1162.7 L935.2,1162.7 L923.7,1150.9 L923.7,1148.3 Z" fill="#008000"/>
<path d="M987.7,1155.2 L990.3,1155.2 L1001.8,1167.0 L1001.8,1169.6 L990.3,1181.4 L987.7,1181.4 L976.2,1169.6 L976.2,1167.0 Z" fill="#008000"/>
<path d="M1039.7,1157.5 L1042.3,1157.5 L1053.8,1169.3 L1053.8,1171.9 L1042.3,1183.7 L1039.7,1183.7 L1028.2,1171.9 L1028.2,1169.3 Z" fill="#008000"/>
<path d="M1091.6,1142.8 L1094.2,1142.8 L1105.7,1154.6 L1105.7,1157.2 L1094.2,1169.0 L1091.6,1169.0 L1080.1,1157.2 L1080.1,1154.6 Z" fill="#008000"/>
<path d="M1144.3,1114.3 L1146.9,1114.3 L1158.4,1126.1 L1158.4,1128.7 L1146.9,1140.5 L1144.3,1140.5 L1132.8,1128.7 L1132.8,1126.1 Z" fill="#008000"/>
<path d="M1196.0,1075.3 L1198.6,1075.3 L1210.1,1087.1 L1210.1,1089.7 L1198.6,1101.5 L1196.0,1101.5 L1184.5,1089.7 L1184.5,1087.1 Z" fill="#008000"/>
<path d="M1248.3,1036.8 L1250.9,1036.8 L1262.4,1048.6 L1262.4,1051.2 L1250.9,1063.0 L1248.3,1063.0 L1236.8,1051.2 L1236.8,1048.6 Z" fill="#008000"/>
<path d="M1300.4,1010.5 L1303.0,1010.5 L1314.5,1022.3 L1314.5,1024.9 L1303.0,1036.7 L1300.4,1036.7 L1288.9,1024.9 L1288.9,1022.3 Z" fill="#008000"/>
<path d="M1352.9,1004.5 L1355.5,1004.5 L1367.0,1016.3 L1367.0,1018.9 L1355.5,1030.7 L1352.9,1030.7 L1341.4,1018.9 L1341.4,1016.3 Z" fill="#008000"/>
<path d="M1404.8,1023.2 L1407.4,1023.2 L1418.9,1035.0 L1418.9,1037.6 L1407.4,1049.4 L1404.8,1049.4 L1393.3,1037.6 L1393.3,1035.0 Z" fill="#008000"/>
<path d="M1457.7,1066.2 L1460.3,1066.2 L1471.8,1078.0 L1471.8,1080.6 L1460.3,1092.4 L1457.7,1092.4 L1446.2,1080.6 L1446.2,1078.0 Z" fill="#008000"/>
<path d="M1509.6,1121.1 L1512.2,1121.1 L1523.7,1132.9 L1523.7,1135.5 L1512.2,1147.3 L1509.6,1147.3 L1498.1,1135.5 L1498.1,1132.9 Z" fill="#008000"/>
<path d="M1561.7,1168.6 L1564.3,1168.6 L1575.8,1180.4 L1575.8,1183.0 L1564.3,1194.8 L1561.7,1194.8 L1550.2,1183.0 L1550.2,1180.4 Z" fill="#008000"/>
<path d="M1613.7,1185.8 L1616.3,1185.8 L1627.8,1197.6 L1627.8,1200.2 L1616.3,1212.0 L1613.7,1212.0 L1602.2,1200.2 L1602.2,1197.6 Z" fill="#008000"/>
<path d="M1665.8,1159.6 L1668.4,1159.6 L1679.9,1171.4 L1679.9,1174.0 L1668.4,1185.8 L1665.8,1185.8 L1654.3,1174.0 L1654.3,1171.4 Z" fill="#008000"/>
<path d="M1718.1,1086.5 L1720.7,1086.5 L1732.2,1098.3 L1732.2,1100.9 L1720.7,1112.7 L1718.1,1112.7 L1706.6,1100.9 L1706.6,1098.3 Z" fill="#008000"/>
<path d="M1770.0,997.2 L1772.6,997.2 L1784.1,1009.0 L1784.1,1011.6 L1772.6,1023.4 L1770.0,1023.4 L1758.5,1011.6 L1758.5,1009.0 Z" fill="#008000"/>
<path d="M1822.7,950.1 L1825.3,950.1 L1836.8,961.9 L1836.8,964.5 L1825.3,976.3 L1822.7,976.3 L1811.2,964.5 L1811.2,961.9 Z" fill="#008000"/>
<path d="M1874.7,1013.7 L1877.3,1013.7 L1888.8,1025.5 L1888.8,1028.1 L1877.3,1039.9 L1874.7,1039.9 L1863.2,1028.1 L1863.2,1025.5 Z" fill="#008000"/>
<path d="M1927.4,1198.4 L1930.0,1198.4 L1941.5,1210.2 L1941.5,1212.8 L1930.0,1224.6 L1927.4,1224.6 L1915.9,1212.8 L1915.9,1210.2 Z" fill="#008000"/>
<path d="M1979.3,1301.0 L1981.9,1301.0 L1993.4,1312.8 L1993.4,1315.4 L1981.9,1327.2 L1979.3,1327.2 L1967.8,1315.4 L1967.8,1312.8 Z" fill="#008000"/>
<path d="M2031.6,612.3 L2034.2,612.3 L2045.7,624.1 L2045.7,626.7 L2034.2,638.5 L2031.6,638.5 L2020.1,626.7 L2020.1,624.1 Z" fill="#008000"/>
</g>
<rect x="536.05" y="183.55" width="518.1" height="660.2" fill="#fff" stroke="#000" stroke-width="3.3"/>
<path d="M577.5,292.5 H666" stroke="#000000" stroke-width="5.4" fill="none"/><circle cx="577.6" cy="292.5" r="2.7" fill="#000000"/>
<rect x="612.45" y="282.90" width="20.1" height="19.2" rx="1.6" fill="#000000"/>
<path d="M577.5,412.7 H666" stroke="#ff0000" stroke-width="5.2" fill="none"/><circle cx="577.6" cy="412.7" r="2.6" fill="#ff0000"/>
<ellipse cx="622.5" cy="412.7" rx="11" ry="10.5" fill="#ff0000"/>
<path d="M577.5,533.4 H666" stroke="#0000ff" stroke-width="5.2" fill="none"/><circle cx="577.6" cy="533.4" r="2.6" fill="#0000ff"/>
<path d="M621.2,519.8 L623.8,519.8 L635.1,540.9 L609.9,540.9 Z" fill="#0000ff"/>
<path d="M577.5,653.9 H666" stroke="#ff00ff" stroke-width="5.6" fill="none"/><circle cx="577.6" cy="653.9" r="2.8" fill="#ff00ff"/>
<path d="M621.5,642.9 L623.5,642.9 L626.1,648.7 L634.9,648.7 L635.1,650.1 L628.5,655.5 L631.1,663.7 L629.5,664.1 L622.5,659.7 L615.5,664.1 L613.9,663.7 L616.5,655.5 L609.9,650.1 L610.1,648.7 L618.9,648.7 Z" fill="#ff00ff"/>
<path d="M577.5,774.4 H666" stroke="#008000" stroke-width="5.2" fill="none"/><circle cx="577.6" cy="774.4" r="2.6" fill="#008000"/>
<path d="M621.2,761.7 L623.8,761.7 L635.3,773.5 L635.3,776.1 L623.8,787.9 L621.2,787.9 L609.7,776.1 L609.7,773.5 Z" fill="#008000"/>
<text class="leg" y="316.7"><tspan class="it" x="712.8">T</tspan><tspan class="it sub" x="759.7" dy="29.4">2</tspan></text>
<text class="leg" y="437.8"><tspan class="it" x="712.8">T</tspan><tspan class="it sub" x="757.3" dy="29.4">3</tspan><tspan x="805.2" dy="-29.4">:</tspan><tspan x="829.2"> </tspan><tspan class="it" x="851.8">N</tspan><tspan x="904.0"> </tspan><tspan x="925.6">=</tspan><tspan x="967.6"> </tspan><tspan x="997.6">2</tspan></text>
<text class="leg" y="558.2"><tspan class="it" x="712.8">T</tspan><tspan class="it sub" x="756.3" dy="29.4">3</tspan><tspan x="803.5" dy="-29.4">:</tspan><tspan x="827.4"> </tspan><tspan class="it" x="850.8">N</tspan><tspan x="903.0"> </tspan><tspan x="928.6">=</tspan><tspan x="970.6"> </tspan><tspan x="988.0">4</tspan></text>
<text class="leg" y="679.2"><tspan class="it" x="707.8">T</tspan><tspan class="it sub" x="751.3" dy="29.4">3</tspan><tspan x="798.5" dy="-29.4">:</tspan><tspan x="822.4"> </tspan><tspan class="it" x="844.5">N</tspan><tspan x="896.8"> </tspan><tspan x="924.8">=</tspan><tspan x="966.9"> </tspan><tspan x="984.8">6</tspan></text>
<text class="leg" y="800.2"><tspan class="it" x="712.8">T</tspan><tspan class="it sub" x="756.3" dy="29.4">3</tspan><tspan x="803.5" dy="-29.4">:</tspan><tspan x="827.4"> </tspan><tspan class="it" x="849.5">N</tspan><tspan x="901.8"> </tspan><tspan x="926.8">=</tspan><tspan x="968.9"> </tspan><tspan x="987.5">8</tspan></text>
<g stroke="#000" fill="none" stroke-linecap="round">
<path d="M349.2,1490.0 H364.5" stroke-width="8.4"/>
<path d="M334.3,1359.3 H364.5" stroke-width="8.4"/>
<path d="M349.2,1229.4 H364.5" stroke-width="8.4"/>
<path d="M334.3,1098.4 H364.5" stroke-width="8.4"/>
<path d="M349.2,967.8 H364.5" stroke-width="8.4"/>
<path d="M334.3,838.4 H364.5" stroke-width="8.4"/>
<path d="M349.2,707.8 H364.5" stroke-width="8.4"/>
<path d="M334.3,577.6 H364.5" stroke-width="8.4"/>
<path d="M349.2,447.2 H364.5" stroke-width="8.4"/>
<path d="M334.3,316.6 H364.5" stroke-width="8.4"/>
<path d="M349.2,187.2 H364.5" stroke-width="8.4"/>
<path d="M334.3,56.5 H364.5" stroke-width="8.4"/>
<path d="M451.0,1490.0 V1517.1" stroke-width="9"/>
<path d="M625.4,1490.0 V1503.3" stroke-width="9"/>
<path d="M799.5,1490.0 V1517.1" stroke-width="9"/>
<path d="M973.5,1490.0 V1503.3" stroke-width="9"/>
<path d="M1147.6,1490.0 V1517.1" stroke-width="9"/>
<path d="M1321.5,1490.0 V1503.3" stroke-width="9"/>
<path d="M1495.5,1490.0 V1517.1" stroke-width="9"/>
<path d="M1669.2,1490.0 V1503.3" stroke-width="9"/>
<path d="M1843.0,1490.0 V1517.1" stroke-width="9"/>
<path d="M2017.5,1490.0 V1503.3" stroke-width="9"/>
<path d="M2191.8,1490.0 V1517.1" stroke-width="9"/>
</g>
<g stroke="#000" fill="none" stroke-linecap="butt">
<path d="M364.5,52.0 V1490.0" stroke-width="9"/>
<path d="M2191.8,52.0 V1490.0" stroke-width="9"/>
<path d="M364.5,56.5 H2196.3" stroke-width="9"/>
<path d="M364.5,1490.0 H2196.2000000000003" stroke-width="8.6"/>
</g>
<text class="tick" text-anchor="end" transform="translate(314.8,1379.5) scale(1.0,1)">-200</text>
<text class="tick" text-anchor="end" transform="translate(314.8,1120.0) scale(1.0,1)">0</text>
<text class="tick" text-anchor="end" transform="translate(314.8,859.8) scale(1.0,1)">200</text>
<text class="tick" text-anchor="end" transform="translate(314.8,599.0) scale(1.0,1)">400</text>
<text class="tick" text-anchor="end" transform="translate(314.8,338.2) scale(1.0,1)">600</text>
<text class="tick" text-anchor="end" transform="translate(314.8,78.1) scale(1.0,1)">800</text>
<text class="tick" text-anchor="middle" transform="translate(452.4,1596.8) scale(1.0,1)">200</text>
<text class="tick" text-anchor="middle" transform="translate(800.2,1596.8) scale(1.0,1)">400</text>
<text class="tick" text-anchor="middle" transform="translate(1146.8,1596.8) scale(1.0,1)">600</text>
<text class="tick" text-anchor="middle" transform="translate(1496.5,1596.8) scale(1.0,1)">800</text>
<text class="tick" text-anchor="middle" transform="translate(1844.5,1596.8) scale(1.0,1)">1000</text>
<text class="tick" text-anchor="middle" transform="translate(2193.2,1596.8) scale(1.0,1)">1200</text>
<rect x="1757.0" y="1590" width="15.5" height="9" fill="#fff"/><rect x="1780.3" y="1590" width="15.7" height="9" fill="#fff"/>
<rect x="2105.0" y="1590" width="16.2" height="9" fill="#fff"/><rect x="2128.9" y="1590" width="15.1" height="9" fill="#fff"/>
<text class="title" x="977.4" y="1677.8">Frequency (Hz)</text>
<text class="title" transform="translate(86.3,1073.9) rotate(-90)" dx="0 1.5 1.5 0.2 -3.6 0 -3.6 -0.9 -0.1 0.4 -3.2 1.5">Value (a.u.)</text>
</svg></body></html>
